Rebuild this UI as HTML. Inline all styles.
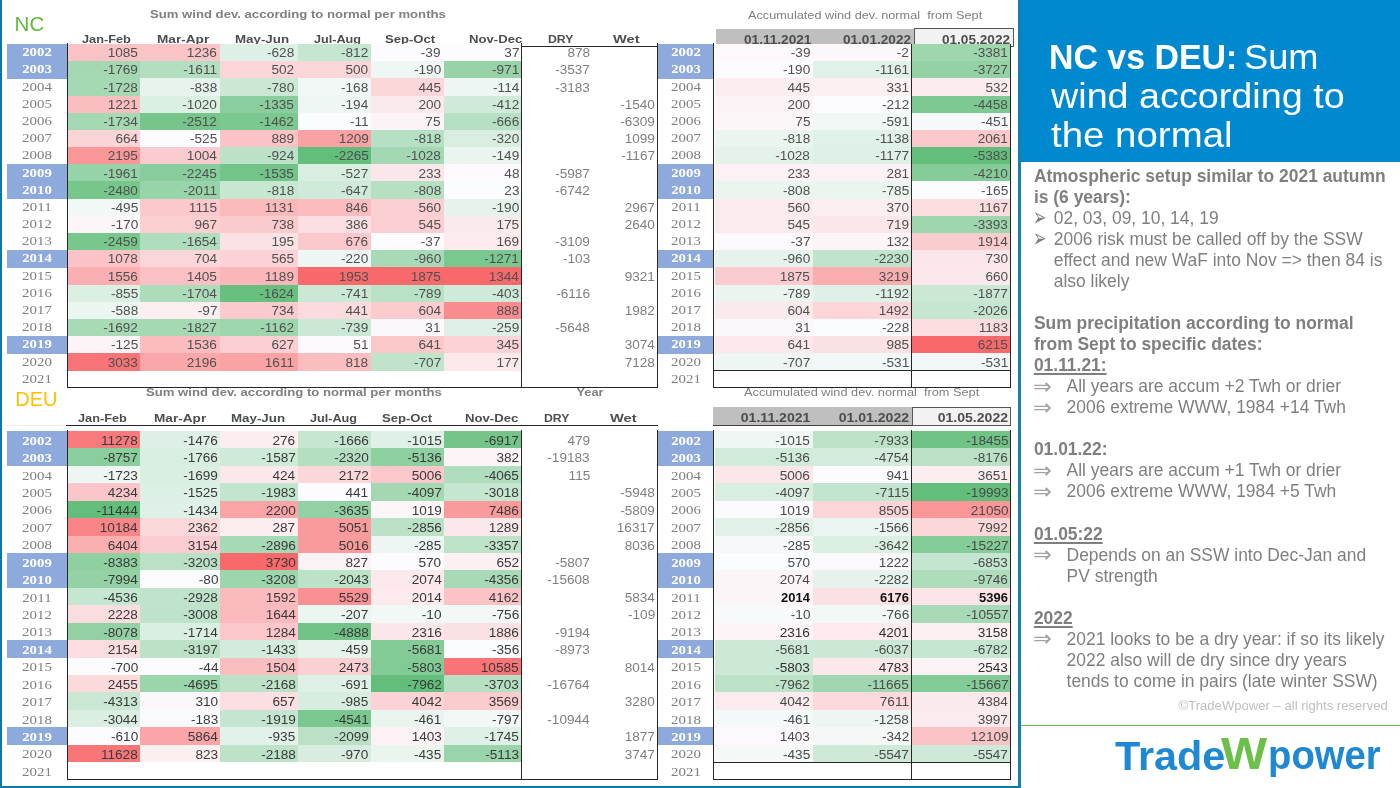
<!DOCTYPE html>
<html lang="en"><head><meta charset="utf-8"><title>NC vs DEU: Sum wind according to the normal</title>
<style>
html,body{margin:0;padding:0;background:#fff;}
body{width:1400px;height:788px;position:relative;overflow:hidden;font-family:"Liberation Sans",sans-serif;}
#all{position:absolute;left:0;top:0;width:1400px;height:788px;will-change:transform;}
.r{position:absolute;}
.t{position:absolute;white-space:nowrap;}
.n{font-family:"Liberation Sans",sans-serif;}
.yn{font-family:"Liberation Serif",serif;color:#7f7f7f;}
.yb{font-family:"Liberation Serif",serif;color:#fff;font-weight:bold;}
.hb{font-weight:bold;color:#4d4d4d;}
.tb{font-weight:bold;color:#7f7f7f;}
.tn{color:#7f7f7f;}
#frameL{position:absolute;left:0;top:0;width:1.8px;height:788px;background:#0d77a9;}
#frameB{position:absolute;left:0;top:786px;width:1021px;height:2px;background:#0d77a9;}
#frameR{position:absolute;left:1018px;top:0;width:3px;height:788px;background:#1780b2;}
#band{position:absolute;left:1021px;top:0;width:379px;height:161.7px;background:#0089cf;}
#title{position:absolute;left:1051px;top:0;color:#fff;}
#title div{position:absolute;left:0;white-space:nowrap;font-size:35px;line-height:35px;}
#title span{display:inline-block;transform-origin:0 50%;}
#body{position:absolute;left:1033.9px;top:166.0px;width:366px;font-size:17.46px;line-height:21.04px;color:#7f7f7f;}
#body div{position:relative;white-space:nowrap;height:21.04px;}
#body b{color:#7f7f7f;}
#body .u{text-decoration:underline;text-decoration-thickness:1.9px;text-underline-offset:2.2px;}
#body .i1{padding-left:19.9px;}
#body .i2{padding-left:32.7px;}
#body .bu{position:absolute;left:0;top:0;font-family:"DejaVu Sans",sans-serif;transform-origin:0 50%;}
#body .b1{font-size:26px;left:-0.5px;top:-1.2px;transform:scaleX(0.61);}
#body .b2{font-size:22.4px;left:-0.9px;top:-0.4px;transform:scaleX(1.0);color:#a2a2a2;}
#copy{position:absolute;right:12.2px;top:0;font-size:13.1px;line-height:13.1px;color:#bfbfbf;white-space:nowrap;}
#gline{position:absolute;left:1021px;top:724.6px;width:379px;height:1.6px;background:#6dbe45;}
#logo{position:absolute;left:0;top:0;color:#1e88d2;font-weight:bold;}
#logo div{position:absolute;white-space:nowrap;}
</style></head><body><div id="all">
<div class="t tb" style="top:7px;font-size:11.6px;line-height:14px;left:149.7px;transform-origin:0 50%;transform:scaleX(1.132);">Sum wind dev. according to normal per months</div><div class="t tb" style="top:385px;font-size:11.6px;line-height:14px;left:145.5px;transform-origin:0 50%;transform:scaleX(1.132);">Sum wind dev. according to normal per months</div><div class="t tn" style="top:8px;font-size:11px;line-height:14px;left:747.9px;transform-origin:0 50%;transform:scaleX(1.155);">Accumulated wind dev. normal&nbsp; from Sept</div><div class="t tn" style="top:385px;font-size:11px;line-height:14px;left:743.7px;transform-origin:0 50%;transform:scaleX(1.16);">Accumulated wind dev. normal&nbsp; from Sept</div><div class="t " style="top:14.25px;font-size:20.5px;line-height:20.5px;color:#62b93c;left:14.6px;transform-origin:0 50%;">NC</div><div class="t " style="top:388.57px;font-size:20px;line-height:20px;color:#ffc000;left:15.3px;transform-origin:0 50%;">DEU</div><div class="t hb" style="top:32px;font-size:11.6px;line-height:14px;left:82.05px;transform-origin:0 50%;transform:scaleX(1.098);">Jan-Feb</div><div class="t hb" style="top:32px;font-size:11.6px;line-height:14px;left:157.31px;transform-origin:0 50%;transform:scaleX(1.174);">Mar-Apr</div><div class="t hb" style="top:32px;font-size:11.6px;line-height:14px;left:234.83px;transform-origin:0 50%;transform:scaleX(1.149);">May-Jun</div><div class="t hb" style="top:32px;font-size:11.6px;line-height:14px;left:313.75px;transform-origin:0 50%;transform:scaleX(1.091);">Jul-Aug</div><div class="t hb" style="top:32px;font-size:11.6px;line-height:14px;left:385.44px;transform-origin:0 50%;transform:scaleX(1.128);">Sep-Oct</div><div class="t hb" style="top:32px;font-size:11.6px;line-height:14px;left:468.73px;transform-origin:0 50%;transform:scaleX(1.132);">Nov-Dec</div><div class="t hb" style="top:32px;font-size:11.6px;line-height:14px;left:548.07px;transform-origin:0 50%;transform:scaleX(1.059);">DRY</div><div class="t hb" style="top:32px;font-size:11.6px;line-height:14px;left:613.37px;transform-origin:0 50%;transform:scaleX(1.262);">Wet</div><div class="r" style="left:716px;top:28.6px;width:198.2px;height:15.2px;background:#bfbfbf;"></div><div class="r" style="left:913.8px;top:28.3px;width:99.8px;height:18.7px;background:#f2f2f2;border:1px solid #555;box-sizing:border-box;"></div><div class="r" style="left:713.2px;top:407.3px;width:198.8px;height:18.3px;background:#bfbfbf;border-bottom:1px solid #444;box-sizing:border-box;"></div><div class="r" style="left:911.5px;top:407.3px;width:99.5px;height:18.3px;background:#f2f2f2;border:1px solid #555;box-sizing:border-box;"></div><div class="t hb" style="top:33px;font-size:12px;line-height:14px;right:588.3px;transform-origin:100% 50%;transform:scaleX(1.135);">01.11.2021</div><div class="t hb" style="top:33px;font-size:12px;line-height:14px;right:489px;transform-origin:100% 50%;transform:scaleX(1.135);">01.01.2022</div><div class="t hb" style="top:33px;font-size:12px;line-height:14px;right:390px;transform-origin:100% 50%;transform:scaleX(1.135);">01.05.2022</div><div class="t hb" style="top:411px;font-size:12px;line-height:14px;right:590.1px;transform-origin:100% 50%;transform:scaleX(1.172);">01.11.2021</div><div class="t hb" style="top:411px;font-size:12px;line-height:14px;right:490.9px;transform-origin:100% 50%;transform:scaleX(1.172);">01.01.2022</div><div class="t hb" style="top:411px;font-size:12px;line-height:14px;right:392px;transform-origin:100% 50%;transform:scaleX(1.172);">01.05.2022</div><div class="r" style="left:7px;top:44px;width:60px;height:17.48px;background:#8ea9db;"></div><div class="t yb" style="top:45px;font-size:13.2px;line-height:14px;left:-163px;width:400px;text-align:center;transform-origin:50% 50%;transform:scaleX(1.12);">2002</div><div class="r" style="left:658.2px;top:44px;width:55.3px;height:17.48px;background:#8ea9db;"></div><div class="t yb" style="top:45px;font-size:13.2px;line-height:14px;left:485.85px;width:400px;text-align:center;transform-origin:50% 50%;transform:scaleX(1.12);">2002</div><div class="r" style="left:68px;top:44px;width:72px;height:17.48px;background:#fac3c5;"></div><div class="t n" style="top:46px;font-size:12.1px;line-height:14px;color:#505050;right:1261.9px;transform-origin:100% 50%;transform:scaleX(1.125);">1085</div><div class="r" style="left:140px;top:44px;width:80px;height:17.48px;background:#fbc5c8;"></div><div class="t n" style="top:46px;font-size:12.1px;line-height:14px;color:#505050;right:1182.9px;transform-origin:100% 50%;transform:scaleX(1.125);">1236</div><div class="r" style="left:220px;top:44px;width:77.5px;height:17.48px;background:#def0e5;"></div><div class="t n" style="top:46px;font-size:12.1px;line-height:14px;color:#505050;right:1105.6px;transform-origin:100% 50%;transform:scaleX(1.125);">-628</div><div class="r" style="left:297.5px;top:44px;width:73px;height:17.48px;background:#c5e6d0;"></div><div class="t n" style="top:46px;font-size:12.1px;line-height:14px;color:#505050;right:1031.4px;transform-origin:100% 50%;transform:scaleX(1.125);">-812</div><div class="r" style="left:370.5px;top:44px;width:73.5px;height:17.48px;background:#fcfcff;"></div><div class="t n" style="top:46px;font-size:12.1px;line-height:14px;color:#505050;right:959.1px;transform-origin:100% 50%;transform:scaleX(1.125);">-39</div><div class="r" style="left:444px;top:44px;width:77px;height:17.48px;background:#fcfcff;"></div><div class="t n" style="top:46px;font-size:12.1px;line-height:14px;color:#505050;right:880.9px;transform-origin:100% 50%;transform:scaleX(1.125);">37</div><div class="t n" style="top:46px;font-size:12.1px;line-height:14px;color:#7f7f7f;right:810.2px;transform-origin:100% 50%;transform:scaleX(1.125);">878</div><div class="r" style="left:714.5px;top:44px;width:98px;height:17.48px;background:#fcf8fb;"></div><div class="t n" style="top:46px;font-size:12.1px;line-height:14px;color:#505050;right:589.8px;transform-origin:100% 50%;transform:scaleX(1.125);">-39</div><div class="r" style="left:812.5px;top:44px;width:99px;height:17.48px;background:#fcf7fa;"></div><div class="t n" style="top:46px;font-size:12.1px;line-height:14px;color:#505050;right:490.8px;transform-origin:100% 50%;transform:scaleX(1.125);">-2</div><div class="r" style="left:911.5px;top:44px;width:99px;height:17.48px;background:#9ed6ae;"></div><div class="t n" style="top:46px;font-size:12.1px;line-height:14px;color:#505050;right:391.8px;transform-origin:100% 50%;transform:scaleX(1.125);">-3381</div><div class="r" style="left:7px;top:61.18px;width:60px;height:17.48px;background:#8ea9db;"></div><div class="t yb" style="top:62px;font-size:13.2px;line-height:14px;left:-163px;width:400px;text-align:center;transform-origin:50% 50%;transform:scaleX(1.12);">2003</div><div class="r" style="left:658.2px;top:61.18px;width:55.3px;height:17.48px;background:#8ea9db;"></div><div class="t yb" style="top:62px;font-size:13.2px;line-height:14px;left:485.85px;width:400px;text-align:center;transform-origin:50% 50%;transform:scaleX(1.12);">2003</div><div class="r" style="left:68px;top:61.18px;width:72px;height:17.48px;background:#a3d8b2;"></div><div class="t n" style="top:63px;font-size:12.1px;line-height:14px;color:#505050;right:1261.9px;transform-origin:100% 50%;transform:scaleX(1.125);">-1769</div><div class="r" style="left:140px;top:61.18px;width:80px;height:17.48px;background:#b3dec0;"></div><div class="t n" style="top:63px;font-size:12.1px;line-height:14px;color:#505050;right:1182.9px;transform-origin:100% 50%;transform:scaleX(1.125);">-1611</div><div class="r" style="left:220px;top:61.18px;width:77.5px;height:17.48px;background:#fbd5d8;"></div><div class="t n" style="top:63px;font-size:12.1px;line-height:14px;color:#505050;right:1105.6px;transform-origin:100% 50%;transform:scaleX(1.125);">502</div><div class="r" style="left:297.5px;top:61.18px;width:73px;height:17.48px;background:#fbd6d9;"></div><div class="t n" style="top:63px;font-size:12.1px;line-height:14px;color:#505050;right:1031.4px;transform-origin:100% 50%;transform:scaleX(1.125);">500</div><div class="r" style="left:370.5px;top:61.18px;width:73.5px;height:17.48px;background:#eef7f3;"></div><div class="t n" style="top:63px;font-size:12.1px;line-height:14px;color:#505050;right:959.1px;transform-origin:100% 50%;transform:scaleX(1.125);">-190</div><div class="r" style="left:444px;top:61.18px;width:77px;height:17.48px;background:#98d3a8;"></div><div class="t n" style="top:63px;font-size:12.1px;line-height:14px;color:#505050;right:880.9px;transform-origin:100% 50%;transform:scaleX(1.125);">-971</div><div class="t n" style="top:63px;font-size:12.1px;line-height:14px;color:#7f7f7f;right:810.2px;transform-origin:100% 50%;transform:scaleX(1.125);">-3537</div><div class="r" style="left:714.5px;top:61.18px;width:98px;height:17.48px;background:#fcfcff;"></div><div class="t n" style="top:63px;font-size:12.1px;line-height:14px;color:#505050;right:589.8px;transform-origin:100% 50%;transform:scaleX(1.125);">-190</div><div class="r" style="left:812.5px;top:61.18px;width:99px;height:17.48px;background:#e0f1e7;"></div><div class="t n" style="top:63px;font-size:12.1px;line-height:14px;color:#505050;right:490.8px;transform-origin:100% 50%;transform:scaleX(1.125);">-1161</div><div class="r" style="left:911.5px;top:61.18px;width:99px;height:17.48px;background:#94d2a5;"></div><div class="t n" style="top:63px;font-size:12.1px;line-height:14px;color:#505050;right:391.8px;transform-origin:100% 50%;transform:scaleX(1.125);">-3727</div><div class="t yn" style="top:80px;font-size:13.2px;line-height:14px;left:-163px;width:400px;text-align:center;transform-origin:50% 50%;transform:scaleX(1.13);">2004</div><div class="t yn" style="top:80px;font-size:13.2px;line-height:14px;left:485.85px;width:400px;text-align:center;transform-origin:50% 50%;transform:scaleX(1.13);">2004</div><div class="r" style="left:68px;top:78.36px;width:72px;height:17.48px;background:#a5d9b4;"></div><div class="t n" style="top:81px;font-size:12.1px;line-height:14px;color:#505050;right:1261.9px;transform-origin:100% 50%;transform:scaleX(1.125);">-1728</div><div class="r" style="left:140px;top:78.36px;width:80px;height:17.48px;background:#e7f3ed;"></div><div class="t n" style="top:81px;font-size:12.1px;line-height:14px;color:#505050;right:1182.9px;transform-origin:100% 50%;transform:scaleX(1.125);">-838</div><div class="r" style="left:220px;top:78.36px;width:77.5px;height:17.48px;background:#cce8d5;"></div><div class="t n" style="top:81px;font-size:12.1px;line-height:14px;color:#505050;right:1105.6px;transform-origin:100% 50%;transform:scaleX(1.125);">-780</div><div class="r" style="left:297.5px;top:78.36px;width:73px;height:17.48px;background:#f1f7f5;"></div><div class="t n" style="top:81px;font-size:12.1px;line-height:14px;color:#505050;right:1031.4px;transform-origin:100% 50%;transform:scaleX(1.125);">-168</div><div class="r" style="left:370.5px;top:78.36px;width:73.5px;height:17.48px;background:#fbd7da;"></div><div class="t n" style="top:81px;font-size:12.1px;line-height:14px;color:#505050;right:959.1px;transform-origin:100% 50%;transform:scaleX(1.125);">445</div><div class="r" style="left:444px;top:78.36px;width:77px;height:17.48px;background:#edf6f2;"></div><div class="t n" style="top:81px;font-size:12.1px;line-height:14px;color:#505050;right:880.9px;transform-origin:100% 50%;transform:scaleX(1.125);">-114</div><div class="t n" style="top:81px;font-size:12.1px;line-height:14px;color:#7f7f7f;right:810.2px;transform-origin:100% 50%;transform:scaleX(1.125);">-3183</div><div class="r" style="left:714.5px;top:78.36px;width:98px;height:17.48px;background:#fcedf0;"></div><div class="t n" style="top:81px;font-size:12.1px;line-height:14px;color:#505050;right:589.8px;transform-origin:100% 50%;transform:scaleX(1.125);">445</div><div class="r" style="left:812.5px;top:78.36px;width:99px;height:17.48px;background:#fcf0f3;"></div><div class="t n" style="top:81px;font-size:12.1px;line-height:14px;color:#505050;right:490.8px;transform-origin:100% 50%;transform:scaleX(1.125);">331</div><div class="r" style="left:911.5px;top:78.36px;width:99px;height:17.48px;background:#fcebee;"></div><div class="t n" style="top:81px;font-size:12.1px;line-height:14px;color:#505050;right:391.8px;transform-origin:100% 50%;transform:scaleX(1.125);">532</div><div class="t yn" style="top:97px;font-size:13.2px;line-height:14px;left:-163px;width:400px;text-align:center;transform-origin:50% 50%;transform:scaleX(1.13);">2005</div><div class="t yn" style="top:97px;font-size:13.2px;line-height:14px;left:485.85px;width:400px;text-align:center;transform-origin:50% 50%;transform:scaleX(1.13);">2005</div><div class="r" style="left:68px;top:95.54px;width:72px;height:17.48px;background:#fabdc0;"></div><div class="t n" style="top:98px;font-size:12.1px;line-height:14px;color:#505050;right:1261.9px;transform-origin:100% 50%;transform:scaleX(1.125);">1221</div><div class="r" style="left:140px;top:95.54px;width:80px;height:17.48px;background:#dbefe2;"></div><div class="t n" style="top:98px;font-size:12.1px;line-height:14px;color:#505050;right:1182.9px;transform-origin:100% 50%;transform:scaleX(1.125);">-1020</div><div class="r" style="left:220px;top:95.54px;width:77.5px;height:17.48px;background:#8ace9d;"></div><div class="t n" style="top:98px;font-size:12.1px;line-height:14px;color:#505050;right:1105.6px;transform-origin:100% 50%;transform:scaleX(1.125);">-1335</div><div class="r" style="left:297.5px;top:95.54px;width:73px;height:17.48px;background:#eff7f4;"></div><div class="t n" style="top:98px;font-size:12.1px;line-height:14px;color:#505050;right:1031.4px;transform-origin:100% 50%;transform:scaleX(1.125);">-194</div><div class="r" style="left:370.5px;top:95.54px;width:73.5px;height:17.48px;background:#fbeaec;"></div><div class="t n" style="top:98px;font-size:12.1px;line-height:14px;color:#505050;right:959.1px;transform-origin:100% 50%;transform:scaleX(1.125);">200</div><div class="r" style="left:444px;top:95.54px;width:77px;height:17.48px;background:#cfead9;"></div><div class="t n" style="top:98px;font-size:12.1px;line-height:14px;color:#505050;right:880.9px;transform-origin:100% 50%;transform:scaleX(1.125);">-412</div><div class="t n" style="top:98px;font-size:12.1px;line-height:14px;color:#7f7f7f;right:745.2px;transform-origin:100% 50%;transform:scaleX(1.125);">-1540</div><div class="r" style="left:714.5px;top:95.54px;width:98px;height:17.48px;background:#fcf3f6;"></div><div class="t n" style="top:98px;font-size:12.1px;line-height:14px;color:#505050;right:589.8px;transform-origin:100% 50%;transform:scaleX(1.125);">200</div><div class="r" style="left:812.5px;top:95.54px;width:99px;height:17.48px;background:#fcfcff;"></div><div class="t n" style="top:98px;font-size:12.1px;line-height:14px;color:#505050;right:490.8px;transform-origin:100% 50%;transform:scaleX(1.125);">-212</div><div class="r" style="left:911.5px;top:95.54px;width:99px;height:17.48px;background:#7ec993;"></div><div class="t n" style="top:98px;font-size:12.1px;line-height:14px;color:#505050;right:391.8px;transform-origin:100% 50%;transform:scaleX(1.125);">-4458</div><div class="t yn" style="top:114px;font-size:13.2px;line-height:14px;left:-163px;width:400px;text-align:center;transform-origin:50% 50%;transform:scaleX(1.13);">2006</div><div class="t yn" style="top:114px;font-size:13.2px;line-height:14px;left:485.85px;width:400px;text-align:center;transform-origin:50% 50%;transform:scaleX(1.13);">2006</div><div class="r" style="left:68px;top:112.72px;width:72px;height:17.48px;background:#a5d9b4;"></div><div class="t n" style="top:115px;font-size:12.1px;line-height:14px;color:#505050;right:1261.9px;transform-origin:100% 50%;transform:scaleX(1.125);">-1734</div><div class="r" style="left:140px;top:112.72px;width:80px;height:17.48px;background:#76c68c;"></div><div class="t n" style="top:115px;font-size:12.1px;line-height:14px;color:#505050;right:1182.9px;transform-origin:100% 50%;transform:scaleX(1.125);">-2512</div><div class="r" style="left:220px;top:112.72px;width:77.5px;height:17.48px;background:#7bc890;"></div><div class="t n" style="top:115px;font-size:12.1px;line-height:14px;color:#505050;right:1105.6px;transform-origin:100% 50%;transform:scaleX(1.125);">-1462</div><div class="r" style="left:297.5px;top:112.72px;width:73px;height:17.48px;background:#fbfcfe;"></div><div class="t n" style="top:115px;font-size:12.1px;line-height:14px;color:#505050;right:1031.4px;transform-origin:100% 50%;transform:scaleX(1.125);">-11</div><div class="r" style="left:370.5px;top:112.72px;width:73.5px;height:17.48px;background:#fcf3f6;"></div><div class="t n" style="top:115px;font-size:12.1px;line-height:14px;color:#505050;right:959.1px;transform-origin:100% 50%;transform:scaleX(1.125);">75</div><div class="r" style="left:444px;top:112.72px;width:77px;height:17.48px;background:#b6e0c3;"></div><div class="t n" style="top:115px;font-size:12.1px;line-height:14px;color:#505050;right:880.9px;transform-origin:100% 50%;transform:scaleX(1.125);">-666</div><div class="t n" style="top:115px;font-size:12.1px;line-height:14px;color:#7f7f7f;right:745.2px;transform-origin:100% 50%;transform:scaleX(1.125);">-6309</div><div class="r" style="left:714.5px;top:112.72px;width:98px;height:17.48px;background:#fcf6f9;"></div><div class="t n" style="top:115px;font-size:12.1px;line-height:14px;color:#505050;right:589.8px;transform-origin:100% 50%;transform:scaleX(1.125);">75</div><div class="r" style="left:812.5px;top:112.72px;width:99px;height:17.48px;background:#f0f7f5;"></div><div class="t n" style="top:115px;font-size:12.1px;line-height:14px;color:#505050;right:490.8px;transform-origin:100% 50%;transform:scaleX(1.125);">-591</div><div class="r" style="left:911.5px;top:112.72px;width:99px;height:17.48px;background:#f5f9f9;"></div><div class="t n" style="top:115px;font-size:12.1px;line-height:14px;color:#505050;right:391.8px;transform-origin:100% 50%;transform:scaleX(1.125);">-451</div><div class="t yn" style="top:131px;font-size:13.2px;line-height:14px;left:-163px;width:400px;text-align:center;transform-origin:50% 50%;transform:scaleX(1.13);">2007</div><div class="t yn" style="top:131px;font-size:13.2px;line-height:14px;left:485.85px;width:400px;text-align:center;transform-origin:50% 50%;transform:scaleX(1.13);">2007</div><div class="r" style="left:68px;top:129.9px;width:72px;height:17.48px;background:#fbd4d6;"></div><div class="t n" style="top:132px;font-size:12.1px;line-height:14px;color:#505050;right:1261.9px;transform-origin:100% 50%;transform:scaleX(1.125);">664</div><div class="r" style="left:140px;top:129.9px;width:80px;height:17.48px;background:#fcfcff;"></div><div class="t n" style="top:132px;font-size:12.1px;line-height:14px;color:#505050;right:1182.9px;transform-origin:100% 50%;transform:scaleX(1.125);">-525</div><div class="r" style="left:220px;top:129.9px;width:77.5px;height:17.48px;background:#fac3c6;"></div><div class="t n" style="top:132px;font-size:12.1px;line-height:14px;color:#505050;right:1105.6px;transform-origin:100% 50%;transform:scaleX(1.125);">889</div><div class="r" style="left:297.5px;top:129.9px;width:73px;height:17.48px;background:#faa1a3;"></div><div class="t n" style="top:132px;font-size:12.1px;line-height:14px;color:#505050;right:1031.4px;transform-origin:100% 50%;transform:scaleX(1.125);">1209</div><div class="r" style="left:370.5px;top:129.9px;width:73.5px;height:17.48px;background:#b6e0c3;"></div><div class="t n" style="top:132px;font-size:12.1px;line-height:14px;color:#505050;right:959.1px;transform-origin:100% 50%;transform:scaleX(1.125);">-818</div><div class="r" style="left:444px;top:129.9px;width:77px;height:17.48px;background:#d9eee0;"></div><div class="t n" style="top:132px;font-size:12.1px;line-height:14px;color:#505050;right:880.9px;transform-origin:100% 50%;transform:scaleX(1.125);">-320</div><div class="t n" style="top:132px;font-size:12.1px;line-height:14px;color:#7f7f7f;right:745.2px;transform-origin:100% 50%;transform:scaleX(1.125);">1099</div><div class="r" style="left:714.5px;top:129.9px;width:98px;height:17.48px;background:#eaf5ef;"></div><div class="t n" style="top:132px;font-size:12.1px;line-height:14px;color:#505050;right:589.8px;transform-origin:100% 50%;transform:scaleX(1.125);">-818</div><div class="r" style="left:812.5px;top:129.9px;width:99px;height:17.48px;background:#e0f1e7;"></div><div class="t n" style="top:132px;font-size:12.1px;line-height:14px;color:#505050;right:490.8px;transform-origin:100% 50%;transform:scaleX(1.125);">-1138</div><div class="r" style="left:911.5px;top:129.9px;width:99px;height:17.48px;background:#fbc8cb;"></div><div class="t n" style="top:132px;font-size:12.1px;line-height:14px;color:#505050;right:391.8px;transform-origin:100% 50%;transform:scaleX(1.125);">2061</div><div class="t yn" style="top:148px;font-size:13.2px;line-height:14px;left:-163px;width:400px;text-align:center;transform-origin:50% 50%;transform:scaleX(1.13);">2008</div><div class="t yn" style="top:148px;font-size:13.2px;line-height:14px;left:485.85px;width:400px;text-align:center;transform-origin:50% 50%;transform:scaleX(1.13);">2008</div><div class="r" style="left:68px;top:147.08px;width:72px;height:17.48px;background:#f99698;"></div><div class="t n" style="top:149px;font-size:12.1px;line-height:14px;color:#505050;right:1261.9px;transform-origin:100% 50%;transform:scaleX(1.125);">2195</div><div class="r" style="left:140px;top:147.08px;width:80px;height:17.48px;background:#fbcccf;"></div><div class="t n" style="top:149px;font-size:12.1px;line-height:14px;color:#505050;right:1182.9px;transform-origin:100% 50%;transform:scaleX(1.125);">1004</div><div class="r" style="left:220px;top:147.08px;width:77.5px;height:17.48px;background:#bbe1c7;"></div><div class="t n" style="top:149px;font-size:12.1px;line-height:14px;color:#505050;right:1105.6px;transform-origin:100% 50%;transform:scaleX(1.125);">-924</div><div class="r" style="left:297.5px;top:147.08px;width:73px;height:17.48px;background:#63be7b;"></div><div class="t n" style="top:149px;font-size:12.1px;line-height:14px;color:#505050;right:1031.4px;transform-origin:100% 50%;transform:scaleX(1.125);">-2265</div><div class="r" style="left:370.5px;top:147.08px;width:73.5px;height:17.48px;background:#a3d8b2;"></div><div class="t n" style="top:149px;font-size:12.1px;line-height:14px;color:#505050;right:959.1px;transform-origin:100% 50%;transform:scaleX(1.125);">-1028</div><div class="r" style="left:444px;top:147.08px;width:77px;height:17.48px;background:#eaf5ef;"></div><div class="t n" style="top:149px;font-size:12.1px;line-height:14px;color:#505050;right:880.9px;transform-origin:100% 50%;transform:scaleX(1.125);">-149</div><div class="t n" style="top:149px;font-size:12.1px;line-height:14px;color:#7f7f7f;right:745.2px;transform-origin:100% 50%;transform:scaleX(1.125);">-1167</div><div class="r" style="left:714.5px;top:147.08px;width:98px;height:17.48px;background:#e4f2ea;"></div><div class="t n" style="top:149px;font-size:12.1px;line-height:14px;color:#505050;right:589.8px;transform-origin:100% 50%;transform:scaleX(1.125);">-1028</div><div class="r" style="left:812.5px;top:147.08px;width:99px;height:17.48px;background:#dff0e6;"></div><div class="t n" style="top:149px;font-size:12.1px;line-height:14px;color:#505050;right:490.8px;transform-origin:100% 50%;transform:scaleX(1.125);">-1177</div><div class="r" style="left:911.5px;top:147.08px;width:99px;height:17.48px;background:#63be7b;"></div><div class="t n" style="top:149px;font-size:12.1px;line-height:14px;color:#505050;right:391.8px;transform-origin:100% 50%;transform:scaleX(1.125);">-5383</div><div class="r" style="left:7px;top:164.26px;width:60px;height:17.48px;background:#8ea9db;"></div><div class="t yb" style="top:166px;font-size:13.2px;line-height:14px;left:-163px;width:400px;text-align:center;transform-origin:50% 50%;transform:scaleX(1.12);">2009</div><div class="r" style="left:658.2px;top:164.26px;width:55.3px;height:17.48px;background:#8ea9db;"></div><div class="t yb" style="top:166px;font-size:13.2px;line-height:14px;left:485.85px;width:400px;text-align:center;transform-origin:50% 50%;transform:scaleX(1.12);">2009</div><div class="r" style="left:68px;top:164.26px;width:72px;height:17.48px;background:#97d3a8;"></div><div class="t n" style="top:167px;font-size:12.1px;line-height:14px;color:#505050;right:1261.9px;transform-origin:100% 50%;transform:scaleX(1.125);">-1961</div><div class="r" style="left:140px;top:164.26px;width:80px;height:17.48px;background:#88cd9b;"></div><div class="t n" style="top:167px;font-size:12.1px;line-height:14px;color:#505050;right:1182.9px;transform-origin:100% 50%;transform:scaleX(1.125);">-2245</div><div class="r" style="left:220px;top:164.26px;width:77.5px;height:17.48px;background:#72c488;"></div><div class="t n" style="top:167px;font-size:12.1px;line-height:14px;color:#505050;right:1105.6px;transform-origin:100% 50%;transform:scaleX(1.125);">-1535</div><div class="r" style="left:297.5px;top:164.26px;width:73px;height:17.48px;background:#d8eee0;"></div><div class="t n" style="top:167px;font-size:12.1px;line-height:14px;color:#505050;right:1031.4px;transform-origin:100% 50%;transform:scaleX(1.125);">-527</div><div class="r" style="left:370.5px;top:164.26px;width:73.5px;height:17.48px;background:#fbe7ea;"></div><div class="t n" style="top:167px;font-size:12.1px;line-height:14px;color:#505050;right:959.1px;transform-origin:100% 50%;transform:scaleX(1.125);">233</div><div class="r" style="left:444px;top:164.26px;width:77px;height:17.48px;background:#fcfafd;"></div><div class="t n" style="top:167px;font-size:12.1px;line-height:14px;color:#505050;right:880.9px;transform-origin:100% 50%;transform:scaleX(1.125);">48</div><div class="t n" style="top:167px;font-size:12.1px;line-height:14px;color:#7f7f7f;right:810.2px;transform-origin:100% 50%;transform:scaleX(1.125);">-5987</div><div class="r" style="left:714.5px;top:164.26px;width:98px;height:17.48px;background:#fcf2f5;"></div><div class="t n" style="top:167px;font-size:12.1px;line-height:14px;color:#505050;right:589.8px;transform-origin:100% 50%;transform:scaleX(1.125);">233</div><div class="r" style="left:812.5px;top:164.26px;width:99px;height:17.48px;background:#fcf1f4;"></div><div class="t n" style="top:167px;font-size:12.1px;line-height:14px;color:#505050;right:490.8px;transform-origin:100% 50%;transform:scaleX(1.125);">281</div><div class="r" style="left:911.5px;top:164.26px;width:99px;height:17.48px;background:#86cc99;"></div><div class="t n" style="top:167px;font-size:12.1px;line-height:14px;color:#505050;right:391.8px;transform-origin:100% 50%;transform:scaleX(1.125);">-4210</div><div class="r" style="left:7px;top:181.44px;width:60px;height:17.48px;background:#8ea9db;"></div><div class="t yb" style="top:183px;font-size:13.2px;line-height:14px;left:-163px;width:400px;text-align:center;transform-origin:50% 50%;transform:scaleX(1.12);">2010</div><div class="r" style="left:658.2px;top:181.44px;width:55.3px;height:17.48px;background:#8ea9db;"></div><div class="t yb" style="top:183px;font-size:13.2px;line-height:14px;left:485.85px;width:400px;text-align:center;transform-origin:50% 50%;transform:scaleX(1.12);">2010</div><div class="r" style="left:68px;top:181.44px;width:72px;height:17.48px;background:#77c68c;"></div><div class="t n" style="top:184px;font-size:12.1px;line-height:14px;color:#505050;right:1261.9px;transform-origin:100% 50%;transform:scaleX(1.125);">-2480</div><div class="r" style="left:140px;top:181.44px;width:80px;height:17.48px;background:#98d4a9;"></div><div class="t n" style="top:184px;font-size:12.1px;line-height:14px;color:#505050;right:1182.9px;transform-origin:100% 50%;transform:scaleX(1.125);">-2011</div><div class="r" style="left:220px;top:181.44px;width:77.5px;height:17.48px;background:#c7e7d1;"></div><div class="t n" style="top:184px;font-size:12.1px;line-height:14px;color:#505050;right:1105.6px;transform-origin:100% 50%;transform:scaleX(1.125);">-818</div><div class="r" style="left:297.5px;top:181.44px;width:73px;height:17.48px;background:#d0ead9;"></div><div class="t n" style="top:184px;font-size:12.1px;line-height:14px;color:#505050;right:1031.4px;transform-origin:100% 50%;transform:scaleX(1.125);">-647</div><div class="r" style="left:370.5px;top:181.44px;width:73.5px;height:17.48px;background:#b7e0c3;"></div><div class="t n" style="top:184px;font-size:12.1px;line-height:14px;color:#505050;right:959.1px;transform-origin:100% 50%;transform:scaleX(1.125);">-808</div><div class="r" style="left:444px;top:181.44px;width:77px;height:17.48px;background:#fbfcfe;"></div><div class="t n" style="top:184px;font-size:12.1px;line-height:14px;color:#505050;right:880.9px;transform-origin:100% 50%;transform:scaleX(1.125);">23</div><div class="t n" style="top:184px;font-size:12.1px;line-height:14px;color:#7f7f7f;right:810.2px;transform-origin:100% 50%;transform:scaleX(1.125);">-6742</div><div class="r" style="left:714.5px;top:181.44px;width:98px;height:17.48px;background:#eaf5f0;"></div><div class="t n" style="top:184px;font-size:12.1px;line-height:14px;color:#505050;right:589.8px;transform-origin:100% 50%;transform:scaleX(1.125);">-808</div><div class="r" style="left:812.5px;top:181.44px;width:99px;height:17.48px;background:#ebf5f0;"></div><div class="t n" style="top:184px;font-size:12.1px;line-height:14px;color:#505050;right:490.8px;transform-origin:100% 50%;transform:scaleX(1.125);">-785</div><div class="r" style="left:911.5px;top:181.44px;width:99px;height:17.48px;background:#fcfbfe;"></div><div class="t n" style="top:184px;font-size:12.1px;line-height:14px;color:#505050;right:391.8px;transform-origin:100% 50%;transform:scaleX(1.125);">-165</div><div class="t yn" style="top:200px;font-size:13.2px;line-height:14px;left:-163px;width:400px;text-align:center;transform-origin:50% 50%;transform:scaleX(1.13);">2011</div><div class="t yn" style="top:200px;font-size:13.2px;line-height:14px;left:485.85px;width:400px;text-align:center;transform-origin:50% 50%;transform:scaleX(1.13);">2011</div><div class="r" style="left:68px;top:198.62px;width:72px;height:17.48px;background:#f2f8f6;"></div><div class="t n" style="top:201px;font-size:12.1px;line-height:14px;color:#505050;right:1261.9px;transform-origin:100% 50%;transform:scaleX(1.125);">-495</div><div class="r" style="left:140px;top:198.62px;width:80px;height:17.48px;background:#fbc9cc;"></div><div class="t n" style="top:201px;font-size:12.1px;line-height:14px;color:#505050;right:1182.9px;transform-origin:100% 50%;transform:scaleX(1.125);">1115</div><div class="r" style="left:220px;top:198.62px;width:77.5px;height:17.48px;background:#fab9bb;"></div><div class="t n" style="top:201px;font-size:12.1px;line-height:14px;color:#505050;right:1105.6px;transform-origin:100% 50%;transform:scaleX(1.125);">1131</div><div class="r" style="left:297.5px;top:198.62px;width:73px;height:17.48px;background:#fabcbf;"></div><div class="t n" style="top:201px;font-size:12.1px;line-height:14px;color:#505050;right:1031.4px;transform-origin:100% 50%;transform:scaleX(1.125);">846</div><div class="r" style="left:370.5px;top:198.62px;width:73.5px;height:17.48px;background:#fbced1;"></div><div class="t n" style="top:201px;font-size:12.1px;line-height:14px;color:#505050;right:959.1px;transform-origin:100% 50%;transform:scaleX(1.125);">560</div><div class="r" style="left:444px;top:198.62px;width:77px;height:17.48px;background:#e6f3ec;"></div><div class="t n" style="top:201px;font-size:12.1px;line-height:14px;color:#505050;right:880.9px;transform-origin:100% 50%;transform:scaleX(1.125);">-190</div><div class="t n" style="top:201px;font-size:12.1px;line-height:14px;color:#7f7f7f;right:745.2px;transform-origin:100% 50%;transform:scaleX(1.125);">2967</div><div class="r" style="left:714.5px;top:198.62px;width:98px;height:17.48px;background:#fcebed;"></div><div class="t n" style="top:201px;font-size:12.1px;line-height:14px;color:#505050;right:589.8px;transform-origin:100% 50%;transform:scaleX(1.125);">560</div><div class="r" style="left:812.5px;top:198.62px;width:99px;height:17.48px;background:#fceff2;"></div><div class="t n" style="top:201px;font-size:12.1px;line-height:14px;color:#505050;right:490.8px;transform-origin:100% 50%;transform:scaleX(1.125);">370</div><div class="r" style="left:911.5px;top:198.62px;width:99px;height:17.48px;background:#fbdddf;"></div><div class="t n" style="top:201px;font-size:12.1px;line-height:14px;color:#505050;right:391.8px;transform-origin:100% 50%;transform:scaleX(1.125);">1167</div><div class="t yn" style="top:217px;font-size:13.2px;line-height:14px;left:-163px;width:400px;text-align:center;transform-origin:50% 50%;transform:scaleX(1.13);">2012</div><div class="t yn" style="top:217px;font-size:13.2px;line-height:14px;left:485.85px;width:400px;text-align:center;transform-origin:50% 50%;transform:scaleX(1.13);">2012</div><div class="r" style="left:68px;top:215.8px;width:72px;height:17.48px;background:#fcf6f8;"></div><div class="t n" style="top:218px;font-size:12.1px;line-height:14px;color:#505050;right:1261.9px;transform-origin:100% 50%;transform:scaleX(1.125);">-170</div><div class="r" style="left:140px;top:215.8px;width:80px;height:17.48px;background:#fbced0;"></div><div class="t n" style="top:218px;font-size:12.1px;line-height:14px;color:#505050;right:1182.9px;transform-origin:100% 50%;transform:scaleX(1.125);">967</div><div class="r" style="left:220px;top:215.8px;width:77.5px;height:17.48px;background:#fbcacd;"></div><div class="t n" style="top:218px;font-size:12.1px;line-height:14px;color:#505050;right:1105.6px;transform-origin:100% 50%;transform:scaleX(1.125);">738</div><div class="r" style="left:297.5px;top:215.8px;width:73px;height:17.48px;background:#fbdfe2;"></div><div class="t n" style="top:218px;font-size:12.1px;line-height:14px;color:#505050;right:1031.4px;transform-origin:100% 50%;transform:scaleX(1.125);">386</div><div class="r" style="left:370.5px;top:215.8px;width:73.5px;height:17.48px;background:#fbcfd2;"></div><div class="t n" style="top:218px;font-size:12.1px;line-height:14px;color:#505050;right:959.1px;transform-origin:100% 50%;transform:scaleX(1.125);">545</div><div class="r" style="left:444px;top:215.8px;width:77px;height:17.48px;background:#fbeaec;"></div><div class="t n" style="top:218px;font-size:12.1px;line-height:14px;color:#505050;right:880.9px;transform-origin:100% 50%;transform:scaleX(1.125);">175</div><div class="t n" style="top:218px;font-size:12.1px;line-height:14px;color:#7f7f7f;right:745.2px;transform-origin:100% 50%;transform:scaleX(1.125);">2640</div><div class="r" style="left:714.5px;top:215.8px;width:98px;height:17.48px;background:#fcebee;"></div><div class="t n" style="top:218px;font-size:12.1px;line-height:14px;color:#505050;right:589.8px;transform-origin:100% 50%;transform:scaleX(1.125);">545</div><div class="r" style="left:812.5px;top:215.8px;width:99px;height:17.48px;background:#fbe7ea;"></div><div class="t n" style="top:218px;font-size:12.1px;line-height:14px;color:#505050;right:490.8px;transform-origin:100% 50%;transform:scaleX(1.125);">719</div><div class="r" style="left:911.5px;top:215.8px;width:99px;height:17.48px;background:#9ed6ae;"></div><div class="t n" style="top:218px;font-size:12.1px;line-height:14px;color:#505050;right:391.8px;transform-origin:100% 50%;transform:scaleX(1.125);">-3393</div><div class="t yn" style="top:234px;font-size:13.2px;line-height:14px;left:-163px;width:400px;text-align:center;transform-origin:50% 50%;transform:scaleX(1.13);">2013</div><div class="t yn" style="top:234px;font-size:13.2px;line-height:14px;left:485.85px;width:400px;text-align:center;transform-origin:50% 50%;transform:scaleX(1.13);">2013</div><div class="r" style="left:68px;top:232.98px;width:72px;height:17.48px;background:#78c78d;"></div><div class="t n" style="top:235px;font-size:12.1px;line-height:14px;color:#505050;right:1261.9px;transform-origin:100% 50%;transform:scaleX(1.125);">-2459</div><div class="r" style="left:140px;top:232.98px;width:80px;height:17.48px;background:#b0ddbd;"></div><div class="t n" style="top:235px;font-size:12.1px;line-height:14px;color:#505050;right:1182.9px;transform-origin:100% 50%;transform:scaleX(1.125);">-1654</div><div class="r" style="left:220px;top:232.98px;width:77.5px;height:17.48px;background:#fbe3e5;"></div><div class="t n" style="top:235px;font-size:12.1px;line-height:14px;color:#505050;right:1105.6px;transform-origin:100% 50%;transform:scaleX(1.125);">195</div><div class="r" style="left:297.5px;top:232.98px;width:73px;height:17.48px;background:#fbc9cc;"></div><div class="t n" style="top:235px;font-size:12.1px;line-height:14px;color:#505050;right:1031.4px;transform-origin:100% 50%;transform:scaleX(1.125);">676</div><div class="r" style="left:370.5px;top:232.98px;width:73.5px;height:17.48px;background:#fcfcff;"></div><div class="t n" style="top:235px;font-size:12.1px;line-height:14px;color:#505050;right:959.1px;transform-origin:100% 50%;transform:scaleX(1.125);">-37</div><div class="r" style="left:444px;top:232.98px;width:77px;height:17.48px;background:#fceaed;"></div><div class="t n" style="top:235px;font-size:12.1px;line-height:14px;color:#505050;right:880.9px;transform-origin:100% 50%;transform:scaleX(1.125);">169</div><div class="t n" style="top:235px;font-size:12.1px;line-height:14px;color:#7f7f7f;right:810.2px;transform-origin:100% 50%;transform:scaleX(1.125);">-3109</div><div class="r" style="left:714.5px;top:232.98px;width:98px;height:17.48px;background:#fcf8fb;"></div><div class="t n" style="top:235px;font-size:12.1px;line-height:14px;color:#505050;right:589.8px;transform-origin:100% 50%;transform:scaleX(1.125);">-37</div><div class="r" style="left:812.5px;top:232.98px;width:99px;height:17.48px;background:#fcf4f7;"></div><div class="t n" style="top:235px;font-size:12.1px;line-height:14px;color:#505050;right:490.8px;transform-origin:100% 50%;transform:scaleX(1.125);">132</div><div class="r" style="left:911.5px;top:232.98px;width:99px;height:17.48px;background:#fbccce;"></div><div class="t n" style="top:235px;font-size:12.1px;line-height:14px;color:#505050;right:391.8px;transform-origin:100% 50%;transform:scaleX(1.125);">1914</div><div class="r" style="left:7px;top:250.16px;width:60px;height:17.48px;background:#8ea9db;"></div><div class="t yb" style="top:251px;font-size:13.2px;line-height:14px;left:-163px;width:400px;text-align:center;transform-origin:50% 50%;transform:scaleX(1.12);">2014</div><div class="r" style="left:658.2px;top:250.16px;width:55.3px;height:17.48px;background:#8ea9db;"></div><div class="t yb" style="top:251px;font-size:13.2px;line-height:14px;left:485.85px;width:400px;text-align:center;transform-origin:50% 50%;transform:scaleX(1.12);">2014</div><div class="r" style="left:68px;top:250.16px;width:72px;height:17.48px;background:#fac3c6;"></div><div class="t n" style="top:252px;font-size:12.1px;line-height:14px;color:#505050;right:1261.9px;transform-origin:100% 50%;transform:scaleX(1.125);">1078</div><div class="r" style="left:140px;top:250.16px;width:80px;height:17.48px;background:#fbd6d9;"></div><div class="t n" style="top:252px;font-size:12.1px;line-height:14px;color:#505050;right:1182.9px;transform-origin:100% 50%;transform:scaleX(1.125);">704</div><div class="r" style="left:220px;top:250.16px;width:77.5px;height:17.48px;background:#fbd2d5;"></div><div class="t n" style="top:252px;font-size:12.1px;line-height:14px;color:#505050;right:1105.6px;transform-origin:100% 50%;transform:scaleX(1.125);">565</div><div class="r" style="left:297.5px;top:250.16px;width:73px;height:17.48px;background:#edf6f2;"></div><div class="t n" style="top:252px;font-size:12.1px;line-height:14px;color:#505050;right:1031.4px;transform-origin:100% 50%;transform:scaleX(1.125);">-220</div><div class="r" style="left:370.5px;top:250.16px;width:73.5px;height:17.48px;background:#a9dab8;"></div><div class="t n" style="top:252px;font-size:12.1px;line-height:14px;color:#505050;right:959.1px;transform-origin:100% 50%;transform:scaleX(1.125);">-960</div><div class="r" style="left:444px;top:250.16px;width:77px;height:17.48px;background:#7ac78f;"></div><div class="t n" style="top:252px;font-size:12.1px;line-height:14px;color:#505050;right:880.9px;transform-origin:100% 50%;transform:scaleX(1.125);">-1271</div><div class="t n" style="top:252px;font-size:12.1px;line-height:14px;color:#7f7f7f;right:810.2px;transform-origin:100% 50%;transform:scaleX(1.125);">-103</div><div class="r" style="left:714.5px;top:250.16px;width:98px;height:17.48px;background:#e6f3ec;"></div><div class="t n" style="top:252px;font-size:12.1px;line-height:14px;color:#505050;right:589.8px;transform-origin:100% 50%;transform:scaleX(1.125);">-960</div><div class="r" style="left:812.5px;top:250.16px;width:99px;height:17.48px;background:#c0e4cb;"></div><div class="t n" style="top:252px;font-size:12.1px;line-height:14px;color:#505050;right:490.8px;transform-origin:100% 50%;transform:scaleX(1.125);">-2230</div><div class="r" style="left:911.5px;top:250.16px;width:99px;height:17.48px;background:#fbe7ea;"></div><div class="t n" style="top:252px;font-size:12.1px;line-height:14px;color:#505050;right:391.8px;transform-origin:100% 50%;transform:scaleX(1.125);">730</div><div class="t yn" style="top:269px;font-size:13.2px;line-height:14px;left:-163px;width:400px;text-align:center;transform-origin:50% 50%;transform:scaleX(1.13);">2015</div><div class="t yn" style="top:269px;font-size:13.2px;line-height:14px;left:485.85px;width:400px;text-align:center;transform-origin:50% 50%;transform:scaleX(1.13);">2015</div><div class="r" style="left:68px;top:267.34px;width:72px;height:17.48px;background:#fab0b2;"></div><div class="t n" style="top:270px;font-size:12.1px;line-height:14px;color:#505050;right:1261.9px;transform-origin:100% 50%;transform:scaleX(1.125);">1556</div><div class="r" style="left:140px;top:267.34px;width:80px;height:17.48px;background:#fac0c3;"></div><div class="t n" style="top:270px;font-size:12.1px;line-height:14px;color:#505050;right:1182.9px;transform-origin:100% 50%;transform:scaleX(1.125);">1405</div><div class="r" style="left:220px;top:267.34px;width:77.5px;height:17.48px;background:#fab6b8;"></div><div class="t n" style="top:270px;font-size:12.1px;line-height:14px;color:#505050;right:1105.6px;transform-origin:100% 50%;transform:scaleX(1.125);">1189</div><div class="r" style="left:297.5px;top:267.34px;width:73px;height:17.48px;background:#f8696b;"></div><div class="t n" style="top:270px;font-size:12.1px;line-height:14px;color:#505050;right:1031.4px;transform-origin:100% 50%;transform:scaleX(1.125);">1953</div><div class="r" style="left:370.5px;top:267.34px;width:73.5px;height:17.48px;background:#f8696b;"></div><div class="t n" style="top:270px;font-size:12.1px;line-height:14px;color:#505050;right:959.1px;transform-origin:100% 50%;transform:scaleX(1.125);">1875</div><div class="r" style="left:444px;top:267.34px;width:77px;height:17.48px;background:#f8696b;"></div><div class="t n" style="top:270px;font-size:12.1px;line-height:14px;color:#505050;right:880.9px;transform-origin:100% 50%;transform:scaleX(1.125);">1344</div><div class="t n" style="top:270px;font-size:12.1px;line-height:14px;color:#7f7f7f;right:745.2px;transform-origin:100% 50%;transform:scaleX(1.125);">9321</div><div class="r" style="left:714.5px;top:267.34px;width:98px;height:17.48px;background:#fbcccf;"></div><div class="t n" style="top:270px;font-size:12.1px;line-height:14px;color:#505050;right:589.8px;transform-origin:100% 50%;transform:scaleX(1.125);">1875</div><div class="r" style="left:812.5px;top:267.34px;width:99px;height:17.48px;background:#faaeb0;"></div><div class="t n" style="top:270px;font-size:12.1px;line-height:14px;color:#505050;right:490.8px;transform-origin:100% 50%;transform:scaleX(1.125);">3219</div><div class="r" style="left:911.5px;top:267.34px;width:99px;height:17.48px;background:#fbe8eb;"></div><div class="t n" style="top:270px;font-size:12.1px;line-height:14px;color:#505050;right:391.8px;transform-origin:100% 50%;transform:scaleX(1.125);">660</div><div class="t yn" style="top:286px;font-size:13.2px;line-height:14px;left:-163px;width:400px;text-align:center;transform-origin:50% 50%;transform:scaleX(1.13);">2016</div><div class="t yn" style="top:286px;font-size:13.2px;line-height:14px;left:485.85px;width:400px;text-align:center;transform-origin:50% 50%;transform:scaleX(1.13);">2016</div><div class="r" style="left:68px;top:284.52px;width:72px;height:17.48px;background:#dbefe3;"></div><div class="t n" style="top:287px;font-size:12.1px;line-height:14px;color:#505050;right:1261.9px;transform-origin:100% 50%;transform:scaleX(1.125);">-855</div><div class="r" style="left:140px;top:284.52px;width:80px;height:17.48px;background:#addcbb;"></div><div class="t n" style="top:287px;font-size:12.1px;line-height:14px;color:#505050;right:1182.9px;transform-origin:100% 50%;transform:scaleX(1.125);">-1704</div><div class="r" style="left:220px;top:284.52px;width:77.5px;height:17.48px;background:#68c07f;"></div><div class="t n" style="top:287px;font-size:12.1px;line-height:14px;color:#505050;right:1105.6px;transform-origin:100% 50%;transform:scaleX(1.125);">-1624</div><div class="r" style="left:297.5px;top:284.52px;width:73px;height:17.48px;background:#cae8d4;"></div><div class="t n" style="top:287px;font-size:12.1px;line-height:14px;color:#505050;right:1031.4px;transform-origin:100% 50%;transform:scaleX(1.125);">-741</div><div class="r" style="left:370.5px;top:284.52px;width:73.5px;height:17.48px;background:#b9e1c5;"></div><div class="t n" style="top:287px;font-size:12.1px;line-height:14px;color:#505050;right:959.1px;transform-origin:100% 50%;transform:scaleX(1.125);">-789</div><div class="r" style="left:444px;top:284.52px;width:77px;height:17.48px;background:#d0ead9;"></div><div class="t n" style="top:287px;font-size:12.1px;line-height:14px;color:#505050;right:880.9px;transform-origin:100% 50%;transform:scaleX(1.125);">-403</div><div class="t n" style="top:287px;font-size:12.1px;line-height:14px;color:#7f7f7f;right:810.2px;transform-origin:100% 50%;transform:scaleX(1.125);">-6116</div><div class="r" style="left:714.5px;top:284.52px;width:98px;height:17.48px;background:#ebf5f0;"></div><div class="t n" style="top:287px;font-size:12.1px;line-height:14px;color:#505050;right:589.8px;transform-origin:100% 50%;transform:scaleX(1.125);">-789</div><div class="r" style="left:812.5px;top:284.52px;width:99px;height:17.48px;background:#dff0e6;"></div><div class="t n" style="top:287px;font-size:12.1px;line-height:14px;color:#505050;right:490.8px;transform-origin:100% 50%;transform:scaleX(1.125);">-1192</div><div class="r" style="left:911.5px;top:284.52px;width:99px;height:17.48px;background:#cae8d4;"></div><div class="t n" style="top:287px;font-size:12.1px;line-height:14px;color:#505050;right:391.8px;transform-origin:100% 50%;transform:scaleX(1.125);">-1877</div><div class="t yn" style="top:303px;font-size:13.2px;line-height:14px;left:-163px;width:400px;text-align:center;transform-origin:50% 50%;transform:scaleX(1.13);">2017</div><div class="t yn" style="top:303px;font-size:13.2px;line-height:14px;left:485.85px;width:400px;text-align:center;transform-origin:50% 50%;transform:scaleX(1.13);">2017</div><div class="r" style="left:68px;top:301.7px;width:72px;height:17.48px;background:#ecf6f1;"></div><div class="t n" style="top:304px;font-size:12.1px;line-height:14px;color:#505050;right:1261.9px;transform-origin:100% 50%;transform:scaleX(1.125);">-588</div><div class="r" style="left:140px;top:301.7px;width:80px;height:17.48px;background:#fceff2;"></div><div class="t n" style="top:304px;font-size:12.1px;line-height:14px;color:#505050;right:1182.9px;transform-origin:100% 50%;transform:scaleX(1.125);">-97</div><div class="r" style="left:220px;top:301.7px;width:77.5px;height:17.48px;background:#fbcacd;"></div><div class="t n" style="top:304px;font-size:12.1px;line-height:14px;color:#505050;right:1105.6px;transform-origin:100% 50%;transform:scaleX(1.125);">734</div><div class="r" style="left:297.5px;top:301.7px;width:73px;height:17.48px;background:#fbdbde;"></div><div class="t n" style="top:304px;font-size:12.1px;line-height:14px;color:#505050;right:1031.4px;transform-origin:100% 50%;transform:scaleX(1.125);">441</div><div class="r" style="left:370.5px;top:301.7px;width:73.5px;height:17.48px;background:#fbcbcd;"></div><div class="t n" style="top:304px;font-size:12.1px;line-height:14px;color:#505050;right:959.1px;transform-origin:100% 50%;transform:scaleX(1.125);">604</div><div class="r" style="left:444px;top:301.7px;width:77px;height:17.48px;background:#f98c8e;"></div><div class="t n" style="top:304px;font-size:12.1px;line-height:14px;color:#505050;right:880.9px;transform-origin:100% 50%;transform:scaleX(1.125);">888</div><div class="t n" style="top:304px;font-size:12.1px;line-height:14px;color:#7f7f7f;right:745.2px;transform-origin:100% 50%;transform:scaleX(1.125);">1982</div><div class="r" style="left:714.5px;top:301.7px;width:98px;height:17.48px;background:#fbeaec;"></div><div class="t n" style="top:304px;font-size:12.1px;line-height:14px;color:#505050;right:589.8px;transform-origin:100% 50%;transform:scaleX(1.125);">604</div><div class="r" style="left:812.5px;top:301.7px;width:99px;height:17.48px;background:#fbd5d8;"></div><div class="t n" style="top:304px;font-size:12.1px;line-height:14px;color:#505050;right:490.8px;transform-origin:100% 50%;transform:scaleX(1.125);">1492</div><div class="r" style="left:911.5px;top:301.7px;width:99px;height:17.48px;background:#c6e6d0;"></div><div class="t n" style="top:304px;font-size:12.1px;line-height:14px;color:#505050;right:391.8px;transform-origin:100% 50%;transform:scaleX(1.125);">-2026</div><div class="t yn" style="top:320px;font-size:13.2px;line-height:14px;left:-163px;width:400px;text-align:center;transform-origin:50% 50%;transform:scaleX(1.13);">2018</div><div class="t yn" style="top:320px;font-size:13.2px;line-height:14px;left:485.85px;width:400px;text-align:center;transform-origin:50% 50%;transform:scaleX(1.13);">2018</div><div class="r" style="left:68px;top:318.88px;width:72px;height:17.48px;background:#a8dab6;"></div><div class="t n" style="top:321px;font-size:12.1px;line-height:14px;color:#505050;right:1261.9px;transform-origin:100% 50%;transform:scaleX(1.125);">-1692</div><div class="r" style="left:140px;top:318.88px;width:80px;height:17.48px;background:#a4d9b3;"></div><div class="t n" style="top:321px;font-size:12.1px;line-height:14px;color:#505050;right:1182.9px;transform-origin:100% 50%;transform:scaleX(1.125);">-1827</div><div class="r" style="left:220px;top:318.88px;width:77.5px;height:17.48px;background:#9ed6ae;"></div><div class="t n" style="top:321px;font-size:12.1px;line-height:14px;color:#505050;right:1105.6px;transform-origin:100% 50%;transform:scaleX(1.125);">-1162</div><div class="r" style="left:297.5px;top:318.88px;width:73px;height:17.48px;background:#cae8d4;"></div><div class="t n" style="top:321px;font-size:12.1px;line-height:14px;color:#505050;right:1031.4px;transform-origin:100% 50%;transform:scaleX(1.125);">-739</div><div class="r" style="left:370.5px;top:318.88px;width:73.5px;height:17.48px;background:#fcf7fa;"></div><div class="t n" style="top:321px;font-size:12.1px;line-height:14px;color:#505050;right:959.1px;transform-origin:100% 50%;transform:scaleX(1.125);">31</div><div class="r" style="left:444px;top:318.88px;width:77px;height:17.48px;background:#dff0e6;"></div><div class="t n" style="top:321px;font-size:12.1px;line-height:14px;color:#505050;right:880.9px;transform-origin:100% 50%;transform:scaleX(1.125);">-259</div><div class="t n" style="top:321px;font-size:12.1px;line-height:14px;color:#7f7f7f;right:810.2px;transform-origin:100% 50%;transform:scaleX(1.125);">-5648</div><div class="r" style="left:714.5px;top:318.88px;width:98px;height:17.48px;background:#fcf7fa;"></div><div class="t n" style="top:321px;font-size:12.1px;line-height:14px;color:#505050;right:589.8px;transform-origin:100% 50%;transform:scaleX(1.125);">31</div><div class="r" style="left:812.5px;top:318.88px;width:99px;height:17.48px;background:#fbfcfe;"></div><div class="t n" style="top:321px;font-size:12.1px;line-height:14px;color:#505050;right:490.8px;transform-origin:100% 50%;transform:scaleX(1.125);">-228</div><div class="r" style="left:911.5px;top:318.88px;width:99px;height:17.48px;background:#fbdcdf;"></div><div class="t n" style="top:321px;font-size:12.1px;line-height:14px;color:#505050;right:391.8px;transform-origin:100% 50%;transform:scaleX(1.125);">1183</div><div class="r" style="left:7px;top:336.06px;width:60px;height:17.48px;background:#8ea9db;"></div><div class="t yb" style="top:337px;font-size:13.2px;line-height:14px;left:-163px;width:400px;text-align:center;transform-origin:50% 50%;transform:scaleX(1.12);">2019</div><div class="r" style="left:658.2px;top:336.06px;width:55.3px;height:17.48px;background:#8ea9db;"></div><div class="t yb" style="top:337px;font-size:13.2px;line-height:14px;left:485.85px;width:400px;text-align:center;transform-origin:50% 50%;transform:scaleX(1.12);">2019</div><div class="r" style="left:68px;top:336.06px;width:72px;height:17.48px;background:#fcf4f7;"></div><div class="t n" style="top:338px;font-size:12.1px;line-height:14px;color:#505050;right:1261.9px;transform-origin:100% 50%;transform:scaleX(1.125);">-125</div><div class="r" style="left:140px;top:336.06px;width:80px;height:17.48px;background:#fabcbe;"></div><div class="t n" style="top:338px;font-size:12.1px;line-height:14px;color:#505050;right:1182.9px;transform-origin:100% 50%;transform:scaleX(1.125);">1536</div><div class="r" style="left:220px;top:336.06px;width:77.5px;height:17.48px;background:#fbcfd2;"></div><div class="t n" style="top:338px;font-size:12.1px;line-height:14px;color:#505050;right:1105.6px;transform-origin:100% 50%;transform:scaleX(1.125);">627</div><div class="r" style="left:297.5px;top:336.06px;width:73px;height:17.48px;background:#fcf8fb;"></div><div class="t n" style="top:338px;font-size:12.1px;line-height:14px;color:#505050;right:1031.4px;transform-origin:100% 50%;transform:scaleX(1.125);">51</div><div class="r" style="left:370.5px;top:336.06px;width:73.5px;height:17.48px;background:#fbc8ca;"></div><div class="t n" style="top:338px;font-size:12.1px;line-height:14px;color:#505050;right:959.1px;transform-origin:100% 50%;transform:scaleX(1.125);">641</div><div class="r" style="left:444px;top:336.06px;width:77px;height:17.48px;background:#fbd3d6;"></div><div class="t n" style="top:338px;font-size:12.1px;line-height:14px;color:#505050;right:880.9px;transform-origin:100% 50%;transform:scaleX(1.125);">345</div><div class="t n" style="top:338px;font-size:12.1px;line-height:14px;color:#7f7f7f;right:745.2px;transform-origin:100% 50%;transform:scaleX(1.125);">3074</div><div class="r" style="left:714.5px;top:336.06px;width:98px;height:17.48px;background:#fbe9ec;"></div><div class="t n" style="top:338px;font-size:12.1px;line-height:14px;color:#505050;right:589.8px;transform-origin:100% 50%;transform:scaleX(1.125);">641</div><div class="r" style="left:812.5px;top:336.06px;width:99px;height:17.48px;background:#fbe1e4;"></div><div class="t n" style="top:338px;font-size:12.1px;line-height:14px;color:#505050;right:490.8px;transform-origin:100% 50%;transform:scaleX(1.125);">985</div><div class="r" style="left:911.5px;top:336.06px;width:99px;height:17.48px;background:#f8696b;"></div><div class="t n" style="top:338px;font-size:12.1px;line-height:14px;color:#505050;right:391.8px;transform-origin:100% 50%;transform:scaleX(1.125);">6215</div><div class="t yn" style="top:355px;font-size:13.2px;line-height:14px;left:-163px;width:400px;text-align:center;transform-origin:50% 50%;transform:scaleX(1.13);">2020</div><div class="t yn" style="top:355px;font-size:13.2px;line-height:14px;left:485.85px;width:400px;text-align:center;transform-origin:50% 50%;transform:scaleX(1.13);">2020</div><div class="r" style="left:68px;top:353.24px;width:72px;height:17.48px;background:#f87476;"></div><div class="t n" style="top:356px;font-size:12.1px;line-height:14px;color:#505050;right:1261.9px;transform-origin:100% 50%;transform:scaleX(1.125);">3033</div><div class="r" style="left:140px;top:353.24px;width:80px;height:17.48px;background:#faa7aa;"></div><div class="t n" style="top:356px;font-size:12.1px;line-height:14px;color:#505050;right:1182.9px;transform-origin:100% 50%;transform:scaleX(1.125);">2196</div><div class="r" style="left:220px;top:353.24px;width:77.5px;height:17.48px;background:#faa3a5;"></div><div class="t n" style="top:356px;font-size:12.1px;line-height:14px;color:#505050;right:1105.6px;transform-origin:100% 50%;transform:scaleX(1.125);">1611</div><div class="r" style="left:297.5px;top:353.24px;width:73px;height:17.48px;background:#fabec1;"></div><div class="t n" style="top:356px;font-size:12.1px;line-height:14px;color:#505050;right:1031.4px;transform-origin:100% 50%;transform:scaleX(1.125);">818</div><div class="r" style="left:370.5px;top:353.24px;width:73.5px;height:17.48px;background:#c0e4cb;"></div><div class="t n" style="top:356px;font-size:12.1px;line-height:14px;color:#505050;right:959.1px;transform-origin:100% 50%;transform:scaleX(1.125);">-707</div><div class="r" style="left:444px;top:353.24px;width:77px;height:17.48px;background:#fbe9ec;"></div><div class="t n" style="top:356px;font-size:12.1px;line-height:14px;color:#505050;right:880.9px;transform-origin:100% 50%;transform:scaleX(1.125);">177</div><div class="t n" style="top:356px;font-size:12.1px;line-height:14px;color:#7f7f7f;right:745.2px;transform-origin:100% 50%;transform:scaleX(1.125);">7128</div><div class="r" style="left:714.5px;top:353.24px;width:98px;height:17.48px;background:#edf6f2;"></div><div class="t n" style="top:356px;font-size:12.1px;line-height:14px;color:#505050;right:589.8px;transform-origin:100% 50%;transform:scaleX(1.125);">-707</div><div class="r" style="left:812.5px;top:353.24px;width:99px;height:17.48px;background:#f2f8f7;"></div><div class="t n" style="top:356px;font-size:12.1px;line-height:14px;color:#505050;right:490.8px;transform-origin:100% 50%;transform:scaleX(1.125);">-531</div><div class="r" style="left:911.5px;top:353.24px;width:99px;height:17.48px;background:#f2f8f7;"></div><div class="t n" style="top:356px;font-size:12.1px;line-height:14px;color:#505050;right:391.8px;transform-origin:100% 50%;transform:scaleX(1.125);">-531</div><div class="t yn" style="top:372px;font-size:13.2px;line-height:14px;left:-163px;width:400px;text-align:center;transform-origin:50% 50%;transform:scaleX(1.13);">2021</div><div class="t yn" style="top:372px;font-size:13.2px;line-height:14px;left:485.85px;width:400px;text-align:center;transform-origin:50% 50%;transform:scaleX(1.13);">2021</div><div class="r" style="left:7px;top:431px;width:60px;height:17.73px;background:#8ea9db;"></div><div class="t yb" style="top:434px;font-size:13.2px;line-height:14px;left:-163px;width:400px;text-align:center;transform-origin:50% 50%;transform:scaleX(1.12);">2002</div><div class="r" style="left:658.2px;top:431px;width:55.3px;height:17.73px;background:#8ea9db;"></div><div class="t yb" style="top:434px;font-size:13.2px;line-height:14px;left:485.85px;width:400px;text-align:center;transform-origin:50% 50%;transform:scaleX(1.12);">2002</div><div class="r" style="left:68px;top:431px;width:72px;height:17.73px;background:#f87a7c;"></div><div class="t n" style="top:434px;font-size:12.1px;line-height:14px;color:#3a3a3a;right:1261.9px;transform-origin:100% 50%;transform:scaleX(1.125);">11278</div><div class="r" style="left:140px;top:431px;width:80px;height:17.73px;background:#def0e6;"></div><div class="t n" style="top:434px;font-size:12.1px;line-height:14px;color:#3a3a3a;right:1181.9px;transform-origin:100% 50%;transform:scaleX(1.125);">-1476</div><div class="r" style="left:220px;top:431px;width:77.5px;height:17.73px;background:#fceef0;"></div><div class="t n" style="top:434px;font-size:12.1px;line-height:14px;color:#3a3a3a;right:1104.4px;transform-origin:100% 50%;transform:scaleX(1.125);">276</div><div class="r" style="left:297.5px;top:431px;width:73px;height:17.73px;background:#c6e6d0;"></div><div class="t n" style="top:434px;font-size:12.1px;line-height:14px;color:#3a3a3a;right:1031.4px;transform-origin:100% 50%;transform:scaleX(1.125);">-1666</div><div class="r" style="left:370.5px;top:431px;width:73.5px;height:17.73px;background:#dff0e6;"></div><div class="t n" style="top:434px;font-size:12.1px;line-height:14px;color:#3a3a3a;right:958.5px;transform-origin:100% 50%;transform:scaleX(1.125);">-1015</div><div class="r" style="left:444px;top:431px;width:77px;height:17.73px;background:#75c58b;"></div><div class="t n" style="top:434px;font-size:12.1px;line-height:14px;color:#3a3a3a;right:880.9px;transform-origin:100% 50%;transform:scaleX(1.125);">-6917</div><div class="t n" style="top:434px;font-size:12.1px;line-height:14px;color:#7f7f7f;right:810.2px;transform-origin:100% 50%;transform:scaleX(1.125);">479</div><div class="r" style="left:714.5px;top:431px;width:98px;height:17.73px;background:#eff7f4;"></div><div class="t n" style="top:434px;font-size:12.1px;line-height:14px;color:#4a4a4a;right:589.8px;transform-origin:100% 50%;transform:scaleX(1.125);">-1015</div><div class="r" style="left:812.5px;top:431px;width:99px;height:17.73px;background:#bce2c8;"></div><div class="t n" style="top:434px;font-size:12.1px;line-height:14px;color:#4a4a4a;right:490.8px;transform-origin:100% 50%;transform:scaleX(1.125);">-7933</div><div class="r" style="left:911.5px;top:431px;width:99px;height:17.73px;background:#6ec385;"></div><div class="t n" style="top:434px;font-size:12.1px;line-height:14px;color:#4a4a4a;right:391.8px;transform-origin:100% 50%;transform:scaleX(1.125);">-18455</div><div class="r" style="left:7px;top:448.43px;width:60px;height:17.73px;background:#8ea9db;"></div><div class="t yb" style="top:451px;font-size:13.2px;line-height:14px;left:-163px;width:400px;text-align:center;transform-origin:50% 50%;transform:scaleX(1.12);">2003</div><div class="r" style="left:658.2px;top:448.43px;width:55.3px;height:17.73px;background:#8ea9db;"></div><div class="t yb" style="top:451px;font-size:13.2px;line-height:14px;left:485.85px;width:400px;text-align:center;transform-origin:50% 50%;transform:scaleX(1.12);">2003</div><div class="r" style="left:68px;top:448.43px;width:72px;height:17.73px;background:#89ce9c;"></div><div class="t n" style="top:451px;font-size:12.1px;line-height:14px;color:#3a3a3a;right:1261.9px;transform-origin:100% 50%;transform:scaleX(1.125);">-8757</div><div class="r" style="left:140px;top:448.43px;width:80px;height:17.73px;background:#d8eee0;"></div><div class="t n" style="top:451px;font-size:12.1px;line-height:14px;color:#3a3a3a;right:1181.9px;transform-origin:100% 50%;transform:scaleX(1.125);">-1766</div><div class="r" style="left:220px;top:448.43px;width:77.5px;height:17.73px;background:#ceead8;"></div><div class="t n" style="top:451px;font-size:12.1px;line-height:14px;color:#3a3a3a;right:1104.4px;transform-origin:100% 50%;transform:scaleX(1.125);">-1587</div><div class="r" style="left:297.5px;top:448.43px;width:73px;height:17.73px;background:#b4dfc1;"></div><div class="t n" style="top:451px;font-size:12.1px;line-height:14px;color:#3a3a3a;right:1031.4px;transform-origin:100% 50%;transform:scaleX(1.125);">-2320</div><div class="r" style="left:370.5px;top:448.43px;width:73.5px;height:17.73px;background:#8fd0a1;"></div><div class="t n" style="top:451px;font-size:12.1px;line-height:14px;color:#3a3a3a;right:958.5px;transform-origin:100% 50%;transform:scaleX(1.125);">-5136</div><div class="r" style="left:444px;top:448.43px;width:77px;height:17.73px;background:#fcf4f6;"></div><div class="t n" style="top:451px;font-size:12.1px;line-height:14px;color:#3a3a3a;right:880.9px;transform-origin:100% 50%;transform:scaleX(1.125);">382</div><div class="t n" style="top:451px;font-size:12.1px;line-height:14px;color:#7f7f7f;right:810.2px;transform-origin:100% 50%;transform:scaleX(1.125);">-19183</div><div class="r" style="left:714.5px;top:448.43px;width:98px;height:17.73px;background:#d1ebda;"></div><div class="t n" style="top:451px;font-size:12.1px;line-height:14px;color:#4a4a4a;right:589.8px;transform-origin:100% 50%;transform:scaleX(1.125);">-5136</div><div class="r" style="left:812.5px;top:448.43px;width:99px;height:17.73px;background:#d4ecdc;"></div><div class="t n" style="top:451px;font-size:12.1px;line-height:14px;color:#4a4a4a;right:490.8px;transform-origin:100% 50%;transform:scaleX(1.125);">-4754</div><div class="r" style="left:911.5px;top:448.43px;width:99px;height:17.73px;background:#bae1c6;"></div><div class="t n" style="top:451px;font-size:12.1px;line-height:14px;color:#4a4a4a;right:391.8px;transform-origin:100% 50%;transform:scaleX(1.125);">-8176</div><div class="t yn" style="top:469px;font-size:13.2px;line-height:14px;left:-163px;width:400px;text-align:center;transform-origin:50% 50%;transform:scaleX(1.13);">2004</div><div class="t yn" style="top:469px;font-size:13.2px;line-height:14px;left:485.85px;width:400px;text-align:center;transform-origin:50% 50%;transform:scaleX(1.13);">2004</div><div class="r" style="left:68px;top:465.86px;width:72px;height:17.73px;background:#edf6f2;"></div><div class="t n" style="top:469px;font-size:12.1px;line-height:14px;color:#3a3a3a;right:1261.9px;transform-origin:100% 50%;transform:scaleX(1.125);">-1723</div><div class="r" style="left:140px;top:465.86px;width:80px;height:17.73px;background:#daeee2;"></div><div class="t n" style="top:469px;font-size:12.1px;line-height:14px;color:#3a3a3a;right:1181.9px;transform-origin:100% 50%;transform:scaleX(1.125);">-1699</div><div class="r" style="left:220px;top:465.86px;width:77.5px;height:17.73px;background:#fbe8eb;"></div><div class="t n" style="top:469px;font-size:12.1px;line-height:14px;color:#3a3a3a;right:1104.4px;transform-origin:100% 50%;transform:scaleX(1.125);">424</div><div class="r" style="left:297.5px;top:465.86px;width:73px;height:17.73px;background:#fbd7da;"></div><div class="t n" style="top:469px;font-size:12.1px;line-height:14px;color:#3a3a3a;right:1031.4px;transform-origin:100% 50%;transform:scaleX(1.125);">2172</div><div class="r" style="left:370.5px;top:465.86px;width:73.5px;height:17.73px;background:#fbc7ca;"></div><div class="t n" style="top:469px;font-size:12.1px;line-height:14px;color:#3a3a3a;right:958.5px;transform-origin:100% 50%;transform:scaleX(1.125);">5006</div><div class="r" style="left:444px;top:465.86px;width:77px;height:17.73px;background:#afddbd;"></div><div class="t n" style="top:469px;font-size:12.1px;line-height:14px;color:#3a3a3a;right:880.9px;transform-origin:100% 50%;transform:scaleX(1.125);">-4065</div><div class="t n" style="top:469px;font-size:12.1px;line-height:14px;color:#7f7f7f;right:810.2px;transform-origin:100% 50%;transform:scaleX(1.125);">115</div><div class="r" style="left:714.5px;top:465.86px;width:98px;height:17.73px;background:#fbe6e9;"></div><div class="t n" style="top:469px;font-size:12.1px;line-height:14px;color:#4a4a4a;right:589.8px;transform-origin:100% 50%;transform:scaleX(1.125);">5006</div><div class="r" style="left:812.5px;top:465.86px;width:99px;height:17.73px;background:#fcfbfe;"></div><div class="t n" style="top:469px;font-size:12.1px;line-height:14px;color:#4a4a4a;right:490.8px;transform-origin:100% 50%;transform:scaleX(1.125);">941</div><div class="r" style="left:911.5px;top:465.86px;width:99px;height:17.73px;background:#fcedf0;"></div><div class="t n" style="top:469px;font-size:12.1px;line-height:14px;color:#4a4a4a;right:391.8px;transform-origin:100% 50%;transform:scaleX(1.125);">3651</div><div class="t yn" style="top:486px;font-size:13.2px;line-height:14px;left:-163px;width:400px;text-align:center;transform-origin:50% 50%;transform:scaleX(1.13);">2005</div><div class="t yn" style="top:486px;font-size:13.2px;line-height:14px;left:485.85px;width:400px;text-align:center;transform-origin:50% 50%;transform:scaleX(1.13);">2005</div><div class="r" style="left:68px;top:483.29px;width:72px;height:17.73px;background:#fbc6c9;"></div><div class="t n" style="top:486px;font-size:12.1px;line-height:14px;color:#3a3a3a;right:1261.9px;transform-origin:100% 50%;transform:scaleX(1.125);">4234</div><div class="r" style="left:140px;top:483.29px;width:80px;height:17.73px;background:#ddf0e5;"></div><div class="t n" style="top:486px;font-size:12.1px;line-height:14px;color:#3a3a3a;right:1181.9px;transform-origin:100% 50%;transform:scaleX(1.125);">-1525</div><div class="r" style="left:220px;top:483.29px;width:77.5px;height:17.73px;background:#c2e5cd;"></div><div class="t n" style="top:486px;font-size:12.1px;line-height:14px;color:#3a3a3a;right:1104.4px;transform-origin:100% 50%;transform:scaleX(1.125);">-1983</div><div class="r" style="left:297.5px;top:483.29px;width:73px;height:17.73px;background:#fcfbfe;"></div><div class="t n" style="top:486px;font-size:12.1px;line-height:14px;color:#3a3a3a;right:1031.4px;transform-origin:100% 50%;transform:scaleX(1.125);">441</div><div class="r" style="left:370.5px;top:483.29px;width:73.5px;height:17.73px;background:#a3d8b2;"></div><div class="t n" style="top:486px;font-size:12.1px;line-height:14px;color:#3a3a3a;right:958.5px;transform-origin:100% 50%;transform:scaleX(1.125);">-4097</div><div class="r" style="left:444px;top:483.29px;width:77px;height:17.73px;background:#c5e6cf;"></div><div class="t n" style="top:486px;font-size:12.1px;line-height:14px;color:#3a3a3a;right:880.9px;transform-origin:100% 50%;transform:scaleX(1.125);">-3018</div><div class="t n" style="top:486px;font-size:12.1px;line-height:14px;color:#7f7f7f;right:745.2px;transform-origin:100% 50%;transform:scaleX(1.125);">-5948</div><div class="r" style="left:714.5px;top:483.29px;width:98px;height:17.73px;background:#d9eee0;"></div><div class="t n" style="top:486px;font-size:12.1px;line-height:14px;color:#4a4a4a;right:589.8px;transform-origin:100% 50%;transform:scaleX(1.125);">-4097</div><div class="r" style="left:812.5px;top:483.29px;width:99px;height:17.73px;background:#c2e5cd;"></div><div class="t n" style="top:486px;font-size:12.1px;line-height:14px;color:#4a4a4a;right:490.8px;transform-origin:100% 50%;transform:scaleX(1.125);">-7115</div><div class="r" style="left:911.5px;top:483.29px;width:99px;height:17.73px;background:#63be7b;"></div><div class="t n" style="top:486px;font-size:12.1px;line-height:14px;color:#4a4a4a;right:391.8px;transform-origin:100% 50%;transform:scaleX(1.125);">-19993</div><div class="t yn" style="top:503px;font-size:13.2px;line-height:14px;left:-163px;width:400px;text-align:center;transform-origin:50% 50%;transform:scaleX(1.13);">2006</div><div class="t yn" style="top:503px;font-size:13.2px;line-height:14px;left:485.85px;width:400px;text-align:center;transform-origin:50% 50%;transform:scaleX(1.13);">2006</div><div class="r" style="left:68px;top:500.72px;width:72px;height:17.73px;background:#63be7b;"></div><div class="t n" style="top:504px;font-size:12.1px;line-height:14px;color:#3a3a3a;right:1261.9px;transform-origin:100% 50%;transform:scaleX(1.125);">-11444</div><div class="r" style="left:140px;top:500.72px;width:80px;height:17.73px;background:#dff0e6;"></div><div class="t n" style="top:504px;font-size:12.1px;line-height:14px;color:#3a3a3a;right:1181.9px;transform-origin:100% 50%;transform:scaleX(1.125);">-1434</div><div class="r" style="left:220px;top:500.72px;width:77.5px;height:17.73px;background:#faa4a6;"></div><div class="t n" style="top:504px;font-size:12.1px;line-height:14px;color:#3a3a3a;right:1104.4px;transform-origin:100% 50%;transform:scaleX(1.125);">2200</div><div class="r" style="left:297.5px;top:500.72px;width:73px;height:17.73px;background:#92d1a3;"></div><div class="t n" style="top:504px;font-size:12.1px;line-height:14px;color:#3a3a3a;right:1031.4px;transform-origin:100% 50%;transform:scaleX(1.125);">-3635</div><div class="r" style="left:370.5px;top:500.72px;width:73.5px;height:17.73px;background:#fcf6f9;"></div><div class="t n" style="top:504px;font-size:12.1px;line-height:14px;color:#3a3a3a;right:958.5px;transform-origin:100% 50%;transform:scaleX(1.125);">1019</div><div class="r" style="left:444px;top:500.72px;width:77px;height:17.73px;background:#f99b9d;"></div><div class="t n" style="top:504px;font-size:12.1px;line-height:14px;color:#3a3a3a;right:880.9px;transform-origin:100% 50%;transform:scaleX(1.125);">7486</div><div class="t n" style="top:504px;font-size:12.1px;line-height:14px;color:#7f7f7f;right:745.2px;transform-origin:100% 50%;transform:scaleX(1.125);">-5809</div><div class="r" style="left:714.5px;top:500.72px;width:98px;height:17.73px;background:#fcfafd;"></div><div class="t n" style="top:504px;font-size:12.1px;line-height:14px;color:#4a4a4a;right:589.8px;transform-origin:100% 50%;transform:scaleX(1.125);">1019</div><div class="r" style="left:812.5px;top:500.72px;width:99px;height:17.73px;background:#fbd5d8;"></div><div class="t n" style="top:504px;font-size:12.1px;line-height:14px;color:#4a4a4a;right:490.8px;transform-origin:100% 50%;transform:scaleX(1.125);">8505</div><div class="r" style="left:911.5px;top:500.72px;width:99px;height:17.73px;background:#f99698;"></div><div class="t n" style="top:504px;font-size:12.1px;line-height:14px;color:#4a4a4a;right:391.8px;transform-origin:100% 50%;transform:scaleX(1.125);">21050</div><div class="t yn" style="top:521px;font-size:13.2px;line-height:14px;left:-163px;width:400px;text-align:center;transform-origin:50% 50%;transform:scaleX(1.13);">2007</div><div class="t yn" style="top:521px;font-size:13.2px;line-height:14px;left:485.85px;width:400px;text-align:center;transform-origin:50% 50%;transform:scaleX(1.13);">2007</div><div class="r" style="left:68px;top:518.15px;width:72px;height:17.73px;background:#f98588;"></div><div class="t n" style="top:521px;font-size:12.1px;line-height:14px;color:#3a3a3a;right:1261.9px;transform-origin:100% 50%;transform:scaleX(1.125);">10184</div><div class="r" style="left:140px;top:518.15px;width:80px;height:17.73px;background:#fbd9db;"></div><div class="t n" style="top:521px;font-size:12.1px;line-height:14px;color:#3a3a3a;right:1181.9px;transform-origin:100% 50%;transform:scaleX(1.125);">2362</div><div class="r" style="left:220px;top:518.15px;width:77.5px;height:17.73px;background:#fcedf0;"></div><div class="t n" style="top:521px;font-size:12.1px;line-height:14px;color:#3a3a3a;right:1104.4px;transform-origin:100% 50%;transform:scaleX(1.125);">287</div><div class="r" style="left:297.5px;top:518.15px;width:73px;height:17.73px;background:#f99a9d;"></div><div class="t n" style="top:521px;font-size:12.1px;line-height:14px;color:#3a3a3a;right:1031.4px;transform-origin:100% 50%;transform:scaleX(1.125);">5051</div><div class="r" style="left:370.5px;top:518.15px;width:73.5px;height:17.73px;background:#bbe2c7;"></div><div class="t n" style="top:521px;font-size:12.1px;line-height:14px;color:#3a3a3a;right:958.5px;transform-origin:100% 50%;transform:scaleX(1.125);">-2856</div><div class="r" style="left:444px;top:518.15px;width:77px;height:17.73px;background:#fbe8eb;"></div><div class="t n" style="top:521px;font-size:12.1px;line-height:14px;color:#3a3a3a;right:880.9px;transform-origin:100% 50%;transform:scaleX(1.125);">1289</div><div class="t n" style="top:521px;font-size:12.1px;line-height:14px;color:#7f7f7f;right:745.2px;transform-origin:100% 50%;transform:scaleX(1.125);">16317</div><div class="r" style="left:714.5px;top:518.15px;width:98px;height:17.73px;background:#e2f1e8;"></div><div class="t n" style="top:521px;font-size:12.1px;line-height:14px;color:#4a4a4a;right:589.8px;transform-origin:100% 50%;transform:scaleX(1.125);">-2856</div><div class="r" style="left:812.5px;top:518.15px;width:99px;height:17.73px;background:#ebf5f1;"></div><div class="t n" style="top:521px;font-size:12.1px;line-height:14px;color:#4a4a4a;right:490.8px;transform-origin:100% 50%;transform:scaleX(1.125);">-1566</div><div class="r" style="left:911.5px;top:518.15px;width:99px;height:17.73px;background:#fbd7da;"></div><div class="t n" style="top:521px;font-size:12.1px;line-height:14px;color:#4a4a4a;right:391.8px;transform-origin:100% 50%;transform:scaleX(1.125);">7992</div><div class="t yn" style="top:538px;font-size:13.2px;line-height:14px;left:-163px;width:400px;text-align:center;transform-origin:50% 50%;transform:scaleX(1.13);">2008</div><div class="t yn" style="top:538px;font-size:13.2px;line-height:14px;left:485.85px;width:400px;text-align:center;transform-origin:50% 50%;transform:scaleX(1.13);">2008</div><div class="r" style="left:68px;top:535.58px;width:72px;height:17.73px;background:#faafb1;"></div><div class="t n" style="top:539px;font-size:12.1px;line-height:14px;color:#3a3a3a;right:1261.9px;transform-origin:100% 50%;transform:scaleX(1.125);">6404</div><div class="r" style="left:140px;top:535.58px;width:80px;height:17.73px;background:#fbcdd0;"></div><div class="t n" style="top:539px;font-size:12.1px;line-height:14px;color:#3a3a3a;right:1181.9px;transform-origin:100% 50%;transform:scaleX(1.125);">3154</div><div class="r" style="left:220px;top:535.58px;width:77.5px;height:17.73px;background:#a6d9b5;"></div><div class="t n" style="top:539px;font-size:12.1px;line-height:14px;color:#3a3a3a;right:1104.4px;transform-origin:100% 50%;transform:scaleX(1.125);">-2896</div><div class="r" style="left:297.5px;top:535.58px;width:73px;height:17.73px;background:#f99b9d;"></div><div class="t n" style="top:539px;font-size:12.1px;line-height:14px;color:#3a3a3a;right:1031.4px;transform-origin:100% 50%;transform:scaleX(1.125);">5016</div><div class="r" style="left:370.5px;top:535.58px;width:73.5px;height:17.73px;background:#edf6f2;"></div><div class="t n" style="top:539px;font-size:12.1px;line-height:14px;color:#3a3a3a;right:958.5px;transform-origin:100% 50%;transform:scaleX(1.125);">-285</div><div class="r" style="left:444px;top:535.58px;width:77px;height:17.73px;background:#bee3c9;"></div><div class="t n" style="top:539px;font-size:12.1px;line-height:14px;color:#3a3a3a;right:880.9px;transform-origin:100% 50%;transform:scaleX(1.125);">-3357</div><div class="t n" style="top:539px;font-size:12.1px;line-height:14px;color:#7f7f7f;right:745.2px;transform-origin:100% 50%;transform:scaleX(1.125);">8036</div><div class="r" style="left:714.5px;top:535.58px;width:98px;height:17.73px;background:#f5f9f9;"></div><div class="t n" style="top:539px;font-size:12.1px;line-height:14px;color:#4a4a4a;right:589.8px;transform-origin:100% 50%;transform:scaleX(1.125);">-285</div><div class="r" style="left:812.5px;top:535.58px;width:99px;height:17.73px;background:#dcefe3;"></div><div class="t n" style="top:539px;font-size:12.1px;line-height:14px;color:#4a4a4a;right:490.8px;transform-origin:100% 50%;transform:scaleX(1.125);">-3642</div><div class="r" style="left:911.5px;top:535.58px;width:99px;height:17.73px;background:#86cc99;"></div><div class="t n" style="top:539px;font-size:12.1px;line-height:14px;color:#4a4a4a;right:391.8px;transform-origin:100% 50%;transform:scaleX(1.125);">-15227</div><div class="r" style="left:7px;top:553.01px;width:60px;height:17.73px;background:#8ea9db;"></div><div class="t yb" style="top:556px;font-size:13.2px;line-height:14px;left:-163px;width:400px;text-align:center;transform-origin:50% 50%;transform:scaleX(1.12);">2009</div><div class="r" style="left:658.2px;top:553.01px;width:55.3px;height:17.73px;background:#8ea9db;"></div><div class="t yb" style="top:556px;font-size:13.2px;line-height:14px;left:485.85px;width:400px;text-align:center;transform-origin:50% 50%;transform:scaleX(1.12);">2009</div><div class="r" style="left:68px;top:553.01px;width:72px;height:17.73px;background:#8fd0a1;"></div><div class="t n" style="top:556px;font-size:12.1px;line-height:14px;color:#3a3a3a;right:1261.9px;transform-origin:100% 50%;transform:scaleX(1.125);">-8383</div><div class="r" style="left:140px;top:553.01px;width:80px;height:17.73px;background:#bae1c6;"></div><div class="t n" style="top:556px;font-size:12.1px;line-height:14px;color:#3a3a3a;right:1181.9px;transform-origin:100% 50%;transform:scaleX(1.125);">-3203</div><div class="r" style="left:220px;top:553.01px;width:77.5px;height:17.73px;background:#f8696b;"></div><div class="t n" style="top:556px;font-size:12.1px;line-height:14px;color:#3a3a3a;right:1104.4px;transform-origin:100% 50%;transform:scaleX(1.125);">3730</div><div class="r" style="left:297.5px;top:553.01px;width:73px;height:17.73px;background:#fcf3f6;"></div><div class="t n" style="top:556px;font-size:12.1px;line-height:14px;color:#3a3a3a;right:1031.4px;transform-origin:100% 50%;transform:scaleX(1.125);">827</div><div class="r" style="left:370.5px;top:553.01px;width:73.5px;height:17.73px;background:#fcfbfe;"></div><div class="t n" style="top:556px;font-size:12.1px;line-height:14px;color:#3a3a3a;right:958.5px;transform-origin:100% 50%;transform:scaleX(1.125);">570</div><div class="r" style="left:444px;top:553.01px;width:77px;height:17.73px;background:#fcf0f3;"></div><div class="t n" style="top:556px;font-size:12.1px;line-height:14px;color:#3a3a3a;right:880.9px;transform-origin:100% 50%;transform:scaleX(1.125);">652</div><div class="t n" style="top:556px;font-size:12.1px;line-height:14px;color:#7f7f7f;right:810.2px;transform-origin:100% 50%;transform:scaleX(1.125);">-5807</div><div class="r" style="left:714.5px;top:553.01px;width:98px;height:17.73px;background:#fbfcfe;"></div><div class="t n" style="top:556px;font-size:12.1px;line-height:14px;color:#4a4a4a;right:589.8px;transform-origin:100% 50%;transform:scaleX(1.125);">570</div><div class="r" style="left:812.5px;top:553.01px;width:99px;height:17.73px;background:#fcf9fc;"></div><div class="t n" style="top:556px;font-size:12.1px;line-height:14px;color:#4a4a4a;right:490.8px;transform-origin:100% 50%;transform:scaleX(1.125);">1222</div><div class="r" style="left:911.5px;top:553.01px;width:99px;height:17.73px;background:#c4e5cf;"></div><div class="t n" style="top:556px;font-size:12.1px;line-height:14px;color:#4a4a4a;right:391.8px;transform-origin:100% 50%;transform:scaleX(1.125);">-6853</div><div class="r" style="left:7px;top:570.44px;width:60px;height:17.73px;background:#8ea9db;"></div><div class="t yb" style="top:573px;font-size:13.2px;line-height:14px;left:-163px;width:400px;text-align:center;transform-origin:50% 50%;transform:scaleX(1.12);">2010</div><div class="r" style="left:658.2px;top:570.44px;width:55.3px;height:17.73px;background:#8ea9db;"></div><div class="t yb" style="top:573px;font-size:13.2px;line-height:14px;left:485.85px;width:400px;text-align:center;transform-origin:50% 50%;transform:scaleX(1.12);">2010</div><div class="r" style="left:68px;top:570.44px;width:72px;height:17.73px;background:#94d2a5;"></div><div class="t n" style="top:573px;font-size:12.1px;line-height:14px;color:#3a3a3a;right:1261.9px;transform-origin:100% 50%;transform:scaleX(1.125);">-7994</div><div class="r" style="left:140px;top:570.44px;width:80px;height:17.73px;background:#fcfcff;"></div><div class="t n" style="top:573px;font-size:12.1px;line-height:14px;color:#3a3a3a;right:1181.9px;transform-origin:100% 50%;transform:scaleX(1.125);">-80</div><div class="r" style="left:220px;top:570.44px;width:77.5px;height:17.73px;background:#9dd5ad;"></div><div class="t n" style="top:573px;font-size:12.1px;line-height:14px;color:#3a3a3a;right:1104.4px;transform-origin:100% 50%;transform:scaleX(1.125);">-3208</div><div class="r" style="left:297.5px;top:570.44px;width:73px;height:17.73px;background:#bce2c7;"></div><div class="t n" style="top:573px;font-size:12.1px;line-height:14px;color:#3a3a3a;right:1031.4px;transform-origin:100% 50%;transform:scaleX(1.125);">-2043</div><div class="r" style="left:370.5px;top:570.44px;width:73.5px;height:17.73px;background:#fbe9ec;"></div><div class="t n" style="top:573px;font-size:12.1px;line-height:14px;color:#3a3a3a;right:958.5px;transform-origin:100% 50%;transform:scaleX(1.125);">2074</div><div class="r" style="left:444px;top:570.44px;width:77px;height:17.73px;background:#a9dab8;"></div><div class="t n" style="top:573px;font-size:12.1px;line-height:14px;color:#3a3a3a;right:880.9px;transform-origin:100% 50%;transform:scaleX(1.125);">-4356</div><div class="t n" style="top:573px;font-size:12.1px;line-height:14px;color:#7f7f7f;right:810.2px;transform-origin:100% 50%;transform:scaleX(1.125);">-15608</div><div class="r" style="left:714.5px;top:570.44px;width:98px;height:17.73px;background:#fcf5f8;"></div><div class="t n" style="top:573px;font-size:12.1px;line-height:14px;color:#4a4a4a;right:589.8px;transform-origin:100% 50%;transform:scaleX(1.125);">2074</div><div class="r" style="left:812.5px;top:570.44px;width:99px;height:17.73px;background:#e6f3ec;"></div><div class="t n" style="top:573px;font-size:12.1px;line-height:14px;color:#4a4a4a;right:490.8px;transform-origin:100% 50%;transform:scaleX(1.125);">-2282</div><div class="r" style="left:911.5px;top:570.44px;width:99px;height:17.73px;background:#afddbc;"></div><div class="t n" style="top:573px;font-size:12.1px;line-height:14px;color:#4a4a4a;right:391.8px;transform-origin:100% 50%;transform:scaleX(1.125);">-9746</div><div class="t yn" style="top:591px;font-size:13.2px;line-height:14px;left:-163px;width:400px;text-align:center;transform-origin:50% 50%;transform:scaleX(1.13);">2011</div><div class="t yn" style="top:591px;font-size:13.2px;line-height:14px;left:485.85px;width:400px;text-align:center;transform-origin:50% 50%;transform:scaleX(1.13);">2011</div><div class="r" style="left:68px;top:587.87px;width:72px;height:17.73px;background:#c5e6d0;"></div><div class="t n" style="top:591px;font-size:12.1px;line-height:14px;color:#3a3a3a;right:1261.9px;transform-origin:100% 50%;transform:scaleX(1.125);">-4536</div><div class="r" style="left:140px;top:587.87px;width:80px;height:17.73px;background:#c0e4cb;"></div><div class="t n" style="top:591px;font-size:12.1px;line-height:14px;color:#3a3a3a;right:1181.9px;transform-origin:100% 50%;transform:scaleX(1.125);">-2928</div><div class="r" style="left:220px;top:587.87px;width:77.5px;height:17.73px;background:#fabbbe;"></div><div class="t n" style="top:591px;font-size:12.1px;line-height:14px;color:#3a3a3a;right:1104.4px;transform-origin:100% 50%;transform:scaleX(1.125);">1592</div><div class="r" style="left:297.5px;top:587.87px;width:73px;height:17.73px;background:#f99093;"></div><div class="t n" style="top:591px;font-size:12.1px;line-height:14px;color:#3a3a3a;right:1031.4px;transform-origin:100% 50%;transform:scaleX(1.125);">5529</div><div class="r" style="left:370.5px;top:587.87px;width:73.5px;height:17.73px;background:#fceaed;"></div><div class="t n" style="top:591px;font-size:12.1px;line-height:14px;color:#3a3a3a;right:958.5px;transform-origin:100% 50%;transform:scaleX(1.125);">2014</div><div class="r" style="left:444px;top:587.87px;width:77px;height:17.73px;background:#fac4c7;"></div><div class="t n" style="top:591px;font-size:12.1px;line-height:14px;color:#3a3a3a;right:880.9px;transform-origin:100% 50%;transform:scaleX(1.125);">4162</div><div class="t n" style="top:591px;font-size:12.1px;line-height:14px;color:#7f7f7f;right:745.2px;transform-origin:100% 50%;transform:scaleX(1.125);">5834</div><div class="r" style="left:714.5px;top:587.87px;width:98px;height:17.73px;background:#fcf5f8;"></div><div class="t n" style="top:591px;font-size:12.1px;line-height:14px;color:#111;right:589.8px;transform-origin:100% 50%;transform:scaleX(1.07);font-weight:bold;">2014</div><div class="r" style="left:812.5px;top:587.87px;width:99px;height:17.73px;background:#fbe1e3;"></div><div class="t n" style="top:591px;font-size:12.1px;line-height:14px;color:#111;right:490.8px;transform-origin:100% 50%;transform:scaleX(1.07);font-weight:bold;">6176</div><div class="r" style="left:911.5px;top:587.87px;width:99px;height:17.73px;background:#fbe4e7;"></div><div class="t n" style="top:591px;font-size:12.1px;line-height:14px;color:#111;right:391.8px;transform-origin:100% 50%;transform:scaleX(1.07);font-weight:bold;">5396</div><div class="t yn" style="top:608px;font-size:13.2px;line-height:14px;left:-163px;width:400px;text-align:center;transform-origin:50% 50%;transform:scaleX(1.13);">2012</div><div class="t yn" style="top:608px;font-size:13.2px;line-height:14px;left:485.85px;width:400px;text-align:center;transform-origin:50% 50%;transform:scaleX(1.13);">2012</div><div class="r" style="left:68px;top:605.3px;width:72px;height:17.73px;background:#fbdcdf;"></div><div class="t n" style="top:608px;font-size:12.1px;line-height:14px;color:#3a3a3a;right:1261.9px;transform-origin:100% 50%;transform:scaleX(1.125);">2228</div><div class="r" style="left:140px;top:605.3px;width:80px;height:17.73px;background:#bfe3ca;"></div><div class="t n" style="top:608px;font-size:12.1px;line-height:14px;color:#3a3a3a;right:1181.9px;transform-origin:100% 50%;transform:scaleX(1.125);">-3008</div><div class="r" style="left:220px;top:605.3px;width:77.5px;height:17.73px;background:#fab9bc;"></div><div class="t n" style="top:608px;font-size:12.1px;line-height:14px;color:#3a3a3a;right:1104.4px;transform-origin:100% 50%;transform:scaleX(1.125);">1644</div><div class="r" style="left:297.5px;top:605.3px;width:73px;height:17.73px;background:#ecf6f1;"></div><div class="t n" style="top:608px;font-size:12.1px;line-height:14px;color:#3a3a3a;right:1031.4px;transform-origin:100% 50%;transform:scaleX(1.125);">-207</div><div class="r" style="left:370.5px;top:605.3px;width:73.5px;height:17.73px;background:#f2f8f6;"></div><div class="t n" style="top:608px;font-size:12.1px;line-height:14px;color:#3a3a3a;right:958.5px;transform-origin:100% 50%;transform:scaleX(1.125);">-10</div><div class="r" style="left:444px;top:605.3px;width:77px;height:17.73px;background:#f3f8f7;"></div><div class="t n" style="top:608px;font-size:12.1px;line-height:14px;color:#3a3a3a;right:880.9px;transform-origin:100% 50%;transform:scaleX(1.125);">-756</div><div class="t n" style="top:608px;font-size:12.1px;line-height:14px;color:#7f7f7f;right:745.2px;transform-origin:100% 50%;transform:scaleX(1.125);">-109</div><div class="r" style="left:714.5px;top:605.3px;width:98px;height:17.73px;background:#f7fafa;"></div><div class="t n" style="top:608px;font-size:12.1px;line-height:14px;color:#4a4a4a;right:589.8px;transform-origin:100% 50%;transform:scaleX(1.125);">-10</div><div class="r" style="left:812.5px;top:605.3px;width:99px;height:17.73px;background:#f1f8f6;"></div><div class="t n" style="top:608px;font-size:12.1px;line-height:14px;color:#4a4a4a;right:490.8px;transform-origin:100% 50%;transform:scaleX(1.125);">-766</div><div class="r" style="left:911.5px;top:605.3px;width:99px;height:17.73px;background:#a9dab7;"></div><div class="t n" style="top:608px;font-size:12.1px;line-height:14px;color:#4a4a4a;right:391.8px;transform-origin:100% 50%;transform:scaleX(1.125);">-10557</div><div class="t yn" style="top:625px;font-size:13.2px;line-height:14px;left:-163px;width:400px;text-align:center;transform-origin:50% 50%;transform:scaleX(1.13);">2013</div><div class="t yn" style="top:625px;font-size:13.2px;line-height:14px;left:485.85px;width:400px;text-align:center;transform-origin:50% 50%;transform:scaleX(1.13);">2013</div><div class="r" style="left:68px;top:622.73px;width:72px;height:17.73px;background:#93d1a4;"></div><div class="t n" style="top:626px;font-size:12.1px;line-height:14px;color:#3a3a3a;right:1261.9px;transform-origin:100% 50%;transform:scaleX(1.125);">-8078</div><div class="r" style="left:140px;top:622.73px;width:80px;height:17.73px;background:#daeee1;"></div><div class="t n" style="top:626px;font-size:12.1px;line-height:14px;color:#3a3a3a;right:1181.9px;transform-origin:100% 50%;transform:scaleX(1.125);">-1714</div><div class="r" style="left:220px;top:622.73px;width:77.5px;height:17.73px;background:#fbc7ca;"></div><div class="t n" style="top:626px;font-size:12.1px;line-height:14px;color:#3a3a3a;right:1104.4px;transform-origin:100% 50%;transform:scaleX(1.125);">1284</div><div class="r" style="left:297.5px;top:622.73px;width:73px;height:17.73px;background:#71c387;"></div><div class="t n" style="top:626px;font-size:12.1px;line-height:14px;color:#3a3a3a;right:1031.4px;transform-origin:100% 50%;transform:scaleX(1.125);">-4888</div><div class="r" style="left:370.5px;top:622.73px;width:73.5px;height:17.73px;background:#fbe7e9;"></div><div class="t n" style="top:626px;font-size:12.1px;line-height:14px;color:#3a3a3a;right:958.5px;transform-origin:100% 50%;transform:scaleX(1.125);">2316</div><div class="r" style="left:444px;top:622.73px;width:77px;height:17.73px;background:#fbe1e4;"></div><div class="t n" style="top:626px;font-size:12.1px;line-height:14px;color:#3a3a3a;right:880.9px;transform-origin:100% 50%;transform:scaleX(1.125);">1886</div><div class="t n" style="top:626px;font-size:12.1px;line-height:14px;color:#7f7f7f;right:810.2px;transform-origin:100% 50%;transform:scaleX(1.125);">-9194</div><div class="r" style="left:714.5px;top:622.73px;width:98px;height:17.73px;background:#fcf4f7;"></div><div class="t n" style="top:626px;font-size:12.1px;line-height:14px;color:#303030;right:589.8px;transform-origin:100% 50%;transform:scaleX(1.125);">2316</div><div class="r" style="left:812.5px;top:622.73px;width:99px;height:17.73px;background:#fceaed;"></div><div class="t n" style="top:626px;font-size:12.1px;line-height:14px;color:#303030;right:490.8px;transform-origin:100% 50%;transform:scaleX(1.125);">4201</div><div class="r" style="left:911.5px;top:622.73px;width:99px;height:17.73px;background:#fcf0f3;"></div><div class="t n" style="top:626px;font-size:12.1px;line-height:14px;color:#303030;right:391.8px;transform-origin:100% 50%;transform:scaleX(1.125);">3158</div><div class="r" style="left:7px;top:640.16px;width:60px;height:17.73px;background:#8ea9db;"></div><div class="t yb" style="top:643px;font-size:13.2px;line-height:14px;left:-163px;width:400px;text-align:center;transform-origin:50% 50%;transform:scaleX(1.12);">2014</div><div class="r" style="left:658.2px;top:640.16px;width:55.3px;height:17.73px;background:#8ea9db;"></div><div class="t yb" style="top:643px;font-size:13.2px;line-height:14px;left:485.85px;width:400px;text-align:center;transform-origin:50% 50%;transform:scaleX(1.12);">2014</div><div class="r" style="left:68px;top:640.16px;width:72px;height:17.73px;background:#fbdde0;"></div><div class="t n" style="top:643px;font-size:12.1px;line-height:14px;color:#3a3a3a;right:1261.9px;transform-origin:100% 50%;transform:scaleX(1.125);">2154</div><div class="r" style="left:140px;top:640.16px;width:80px;height:17.73px;background:#bbe2c7;"></div><div class="t n" style="top:643px;font-size:12.1px;line-height:14px;color:#3a3a3a;right:1181.9px;transform-origin:100% 50%;transform:scaleX(1.125);">-3197</div><div class="r" style="left:220px;top:640.16px;width:77.5px;height:17.73px;background:#d3ebdc;"></div><div class="t n" style="top:643px;font-size:12.1px;line-height:14px;color:#3a3a3a;right:1104.4px;transform-origin:100% 50%;transform:scaleX(1.125);">-1433</div><div class="r" style="left:297.5px;top:640.16px;width:73px;height:17.73px;background:#e5f3eb;"></div><div class="t n" style="top:643px;font-size:12.1px;line-height:14px;color:#3a3a3a;right:1031.4px;transform-origin:100% 50%;transform:scaleX(1.125);">-459</div><div class="r" style="left:370.5px;top:640.16px;width:73.5px;height:17.73px;background:#84cb98;"></div><div class="t n" style="top:643px;font-size:12.1px;line-height:14px;color:#3a3a3a;right:958.5px;transform-origin:100% 50%;transform:scaleX(1.125);">-5681</div><div class="r" style="left:444px;top:640.16px;width:77px;height:17.73px;background:#fbfcfe;"></div><div class="t n" style="top:643px;font-size:12.1px;line-height:14px;color:#3a3a3a;right:880.9px;transform-origin:100% 50%;transform:scaleX(1.125);">-356</div><div class="t n" style="top:643px;font-size:12.1px;line-height:14px;color:#7f7f7f;right:810.2px;transform-origin:100% 50%;transform:scaleX(1.125);">-8973</div><div class="r" style="left:714.5px;top:640.16px;width:98px;height:17.73px;background:#cde9d6;"></div><div class="t n" style="top:643px;font-size:12.1px;line-height:14px;color:#4a4a4a;right:589.8px;transform-origin:100% 50%;transform:scaleX(1.125);">-5681</div><div class="r" style="left:812.5px;top:640.16px;width:99px;height:17.73px;background:#cae8d4;"></div><div class="t n" style="top:643px;font-size:12.1px;line-height:14px;color:#4a4a4a;right:490.8px;transform-origin:100% 50%;transform:scaleX(1.125);">-6037</div><div class="r" style="left:911.5px;top:640.16px;width:99px;height:17.73px;background:#c5e6cf;"></div><div class="t n" style="top:643px;font-size:12.1px;line-height:14px;color:#4a4a4a;right:391.8px;transform-origin:100% 50%;transform:scaleX(1.125);">-6782</div><div class="t yn" style="top:660px;font-size:13.2px;line-height:14px;left:-163px;width:400px;text-align:center;transform-origin:50% 50%;transform:scaleX(1.13);">2015</div><div class="t yn" style="top:660px;font-size:13.2px;line-height:14px;left:485.85px;width:400px;text-align:center;transform-origin:50% 50%;transform:scaleX(1.13);">2015</div><div class="r" style="left:68px;top:657.59px;width:72px;height:17.73px;background:#fcfcff;"></div><div class="t n" style="top:661px;font-size:12.1px;line-height:14px;color:#3a3a3a;right:1261.9px;transform-origin:100% 50%;transform:scaleX(1.125);">-700</div><div class="r" style="left:140px;top:657.59px;width:80px;height:17.73px;background:#fcfcff;"></div><div class="t n" style="top:661px;font-size:12.1px;line-height:14px;color:#3a3a3a;right:1181.9px;transform-origin:100% 50%;transform:scaleX(1.125);">-44</div><div class="r" style="left:220px;top:657.59px;width:77.5px;height:17.73px;background:#fabec1;"></div><div class="t n" style="top:661px;font-size:12.1px;line-height:14px;color:#3a3a3a;right:1104.4px;transform-origin:100% 50%;transform:scaleX(1.125);">1504</div><div class="r" style="left:297.5px;top:657.59px;width:73px;height:17.73px;background:#fbd0d3;"></div><div class="t n" style="top:661px;font-size:12.1px;line-height:14px;color:#3a3a3a;right:1031.4px;transform-origin:100% 50%;transform:scaleX(1.125);">2473</div><div class="r" style="left:370.5px;top:657.59px;width:73.5px;height:17.73px;background:#82cb96;"></div><div class="t n" style="top:661px;font-size:12.1px;line-height:14px;color:#3a3a3a;right:958.5px;transform-origin:100% 50%;transform:scaleX(1.125);">-5803</div><div class="r" style="left:444px;top:657.59px;width:77px;height:17.73px;background:#f87476;"></div><div class="t n" style="top:661px;font-size:12.1px;line-height:14px;color:#3a3a3a;right:880.9px;transform-origin:100% 50%;transform:scaleX(1.125);">10585</div><div class="t n" style="top:661px;font-size:12.1px;line-height:14px;color:#7f7f7f;right:745.2px;transform-origin:100% 50%;transform:scaleX(1.125);">8014</div><div class="r" style="left:714.5px;top:657.59px;width:98px;height:17.73px;background:#cce9d6;"></div><div class="t n" style="top:661px;font-size:12.1px;line-height:14px;color:#303030;right:589.8px;transform-origin:100% 50%;transform:scaleX(1.125);">-5803</div><div class="r" style="left:812.5px;top:657.59px;width:99px;height:17.73px;background:#fbe8ea;"></div><div class="t n" style="top:661px;font-size:12.1px;line-height:14px;color:#303030;right:490.8px;transform-origin:100% 50%;transform:scaleX(1.125);">4783</div><div class="r" style="left:911.5px;top:657.59px;width:99px;height:17.73px;background:#fcf3f6;"></div><div class="t n" style="top:661px;font-size:12.1px;line-height:14px;color:#303030;right:391.8px;transform-origin:100% 50%;transform:scaleX(1.125);">2543</div><div class="t yn" style="top:678px;font-size:13.2px;line-height:14px;left:-163px;width:400px;text-align:center;transform-origin:50% 50%;transform:scaleX(1.13);">2016</div><div class="t yn" style="top:678px;font-size:13.2px;line-height:14px;left:485.85px;width:400px;text-align:center;transform-origin:50% 50%;transform:scaleX(1.13);">2016</div><div class="r" style="left:68px;top:675.02px;width:72px;height:17.73px;background:#fbdadc;"></div><div class="t n" style="top:678px;font-size:12.1px;line-height:14px;color:#3a3a3a;right:1261.9px;transform-origin:100% 50%;transform:scaleX(1.125);">2455</div><div class="r" style="left:140px;top:675.02px;width:80px;height:17.73px;background:#9bd5ac;"></div><div class="t n" style="top:678px;font-size:12.1px;line-height:14px;color:#3a3a3a;right:1181.9px;transform-origin:100% 50%;transform:scaleX(1.125);">-4695</div><div class="r" style="left:220px;top:675.02px;width:77.5px;height:17.73px;background:#bde2c8;"></div><div class="t n" style="top:678px;font-size:12.1px;line-height:14px;color:#3a3a3a;right:1104.4px;transform-origin:100% 50%;transform:scaleX(1.125);">-2168</div><div class="r" style="left:297.5px;top:675.02px;width:73px;height:17.73px;background:#dff0e6;"></div><div class="t n" style="top:678px;font-size:12.1px;line-height:14px;color:#3a3a3a;right:1031.4px;transform-origin:100% 50%;transform:scaleX(1.125);">-691</div><div class="r" style="left:370.5px;top:675.02px;width:73.5px;height:17.73px;background:#63be7b;"></div><div class="t n" style="top:678px;font-size:12.1px;line-height:14px;color:#3a3a3a;right:958.5px;transform-origin:100% 50%;transform:scaleX(1.125);">-7962</div><div class="r" style="left:444px;top:675.02px;width:77px;height:17.73px;background:#b7e0c3;"></div><div class="t n" style="top:678px;font-size:12.1px;line-height:14px;color:#3a3a3a;right:880.9px;transform-origin:100% 50%;transform:scaleX(1.125);">-3703</div><div class="t n" style="top:678px;font-size:12.1px;line-height:14px;color:#7f7f7f;right:810.2px;transform-origin:100% 50%;transform:scaleX(1.125);">-16764</div><div class="r" style="left:714.5px;top:675.02px;width:98px;height:17.73px;background:#bce2c8;"></div><div class="t n" style="top:678px;font-size:12.1px;line-height:14px;color:#4a4a4a;right:589.8px;transform-origin:100% 50%;transform:scaleX(1.125);">-7962</div><div class="r" style="left:812.5px;top:675.02px;width:99px;height:17.73px;background:#a1d7b0;"></div><div class="t n" style="top:678px;font-size:12.1px;line-height:14px;color:#4a4a4a;right:490.8px;transform-origin:100% 50%;transform:scaleX(1.125);">-11665</div><div class="r" style="left:911.5px;top:675.02px;width:99px;height:17.73px;background:#83cb97;"></div><div class="t n" style="top:678px;font-size:12.1px;line-height:14px;color:#4a4a4a;right:391.8px;transform-origin:100% 50%;transform:scaleX(1.125);">-15667</div><div class="t yn" style="top:695px;font-size:13.2px;line-height:14px;left:-163px;width:400px;text-align:center;transform-origin:50% 50%;transform:scaleX(1.13);">2017</div><div class="t yn" style="top:695px;font-size:13.2px;line-height:14px;left:485.85px;width:400px;text-align:center;transform-origin:50% 50%;transform:scaleX(1.13);">2017</div><div class="r" style="left:68px;top:692.45px;width:72px;height:17.73px;background:#c9e7d3;"></div><div class="t n" style="top:695px;font-size:12.1px;line-height:14px;color:#3a3a3a;right:1261.9px;transform-origin:100% 50%;transform:scaleX(1.125);">-4313</div><div class="r" style="left:140px;top:692.45px;width:80px;height:17.73px;background:#fcf7fa;"></div><div class="t n" style="top:695px;font-size:12.1px;line-height:14px;color:#3a3a3a;right:1181.9px;transform-origin:100% 50%;transform:scaleX(1.125);">310</div><div class="r" style="left:220px;top:692.45px;width:77.5px;height:17.73px;background:#fbdfe2;"></div><div class="t n" style="top:695px;font-size:12.1px;line-height:14px;color:#3a3a3a;right:1104.4px;transform-origin:100% 50%;transform:scaleX(1.125);">657</div><div class="r" style="left:297.5px;top:692.45px;width:73px;height:17.73px;background:#d7eddf;"></div><div class="t n" style="top:695px;font-size:12.1px;line-height:14px;color:#3a3a3a;right:1031.4px;transform-origin:100% 50%;transform:scaleX(1.125);">-985</div><div class="r" style="left:370.5px;top:692.45px;width:73.5px;height:17.73px;background:#fbd2d5;"></div><div class="t n" style="top:695px;font-size:12.1px;line-height:14px;color:#3a3a3a;right:958.5px;transform-origin:100% 50%;transform:scaleX(1.125);">4042</div><div class="r" style="left:444px;top:692.45px;width:77px;height:17.73px;background:#fbccce;"></div><div class="t n" style="top:695px;font-size:12.1px;line-height:14px;color:#3a3a3a;right:880.9px;transform-origin:100% 50%;transform:scaleX(1.125);">3569</div><div class="t n" style="top:695px;font-size:12.1px;line-height:14px;color:#7f7f7f;right:745.2px;transform-origin:100% 50%;transform:scaleX(1.125);">3280</div><div class="r" style="left:714.5px;top:692.45px;width:98px;height:17.73px;background:#fcebee;"></div><div class="t n" style="top:695px;font-size:12.1px;line-height:14px;color:#4a4a4a;right:589.8px;transform-origin:100% 50%;transform:scaleX(1.125);">4042</div><div class="r" style="left:812.5px;top:692.45px;width:99px;height:17.73px;background:#fbd9dc;"></div><div class="t n" style="top:695px;font-size:12.1px;line-height:14px;color:#4a4a4a;right:490.8px;transform-origin:100% 50%;transform:scaleX(1.125);">7611</div><div class="r" style="left:911.5px;top:692.45px;width:99px;height:17.73px;background:#fbeaec;"></div><div class="t n" style="top:695px;font-size:12.1px;line-height:14px;color:#4a4a4a;right:391.8px;transform-origin:100% 50%;transform:scaleX(1.125);">4384</div><div class="t yn" style="top:713px;font-size:13.2px;line-height:14px;left:-163px;width:400px;text-align:center;transform-origin:50% 50%;transform:scaleX(1.13);">2018</div><div class="t yn" style="top:713px;font-size:13.2px;line-height:14px;left:485.85px;width:400px;text-align:center;transform-origin:50% 50%;transform:scaleX(1.13);">2018</div><div class="r" style="left:68px;top:709.88px;width:72px;height:17.73px;background:#dbeee2;"></div><div class="t n" style="top:713px;font-size:12.1px;line-height:14px;color:#3a3a3a;right:1261.9px;transform-origin:100% 50%;transform:scaleX(1.125);">-3044</div><div class="r" style="left:140px;top:709.88px;width:80px;height:17.73px;background:#f9fbfd;"></div><div class="t n" style="top:713px;font-size:12.1px;line-height:14px;color:#3a3a3a;right:1181.9px;transform-origin:100% 50%;transform:scaleX(1.125);">-183</div><div class="r" style="left:220px;top:709.88px;width:77.5px;height:17.73px;background:#c4e5cf;"></div><div class="t n" style="top:713px;font-size:12.1px;line-height:14px;color:#3a3a3a;right:1104.4px;transform-origin:100% 50%;transform:scaleX(1.125);">-1919</div><div class="r" style="left:297.5px;top:709.88px;width:73px;height:17.73px;background:#7ac78f;"></div><div class="t n" style="top:713px;font-size:12.1px;line-height:14px;color:#3a3a3a;right:1031.4px;transform-origin:100% 50%;transform:scaleX(1.125);">-4541</div><div class="r" style="left:370.5px;top:709.88px;width:73.5px;height:17.73px;background:#e9f4ef;"></div><div class="t n" style="top:713px;font-size:12.1px;line-height:14px;color:#3a3a3a;right:958.5px;transform-origin:100% 50%;transform:scaleX(1.125);">-461</div><div class="r" style="left:444px;top:709.88px;width:77px;height:17.73px;background:#f2f8f6;"></div><div class="t n" style="top:713px;font-size:12.1px;line-height:14px;color:#3a3a3a;right:880.9px;transform-origin:100% 50%;transform:scaleX(1.125);">-797</div><div class="t n" style="top:713px;font-size:12.1px;line-height:14px;color:#7f7f7f;right:810.2px;transform-origin:100% 50%;transform:scaleX(1.125);">-10944</div><div class="r" style="left:714.5px;top:709.88px;width:98px;height:17.73px;background:#f3f9f8;"></div><div class="t n" style="top:713px;font-size:12.1px;line-height:14px;color:#4a4a4a;right:589.8px;transform-origin:100% 50%;transform:scaleX(1.125);">-461</div><div class="r" style="left:812.5px;top:709.88px;width:99px;height:17.73px;background:#eef6f3;"></div><div class="t n" style="top:713px;font-size:12.1px;line-height:14px;color:#4a4a4a;right:490.8px;transform-origin:100% 50%;transform:scaleX(1.125);">-1258</div><div class="r" style="left:911.5px;top:709.88px;width:99px;height:17.73px;background:#fcebee;"></div><div class="t n" style="top:713px;font-size:12.1px;line-height:14px;color:#4a4a4a;right:391.8px;transform-origin:100% 50%;transform:scaleX(1.125);">3997</div><div class="r" style="left:7px;top:727.31px;width:60px;height:17.73px;background:#8ea9db;"></div><div class="t yb" style="top:730px;font-size:13.2px;line-height:14px;left:-163px;width:400px;text-align:center;transform-origin:50% 50%;transform:scaleX(1.12);">2019</div><div class="r" style="left:658.2px;top:727.31px;width:55.3px;height:17.73px;background:#8ea9db;"></div><div class="t yb" style="top:730px;font-size:13.2px;line-height:14px;left:485.85px;width:400px;text-align:center;transform-origin:50% 50%;transform:scaleX(1.12);">2019</div><div class="r" style="left:68px;top:727.31px;width:72px;height:17.73px;background:#fcfbfe;"></div><div class="t n" style="top:730px;font-size:12.1px;line-height:14px;color:#3a3a3a;right:1261.9px;transform-origin:100% 50%;transform:scaleX(1.125);">-610</div><div class="r" style="left:140px;top:727.31px;width:80px;height:17.73px;background:#faa5a8;"></div><div class="t n" style="top:730px;font-size:12.1px;line-height:14px;color:#3a3a3a;right:1181.9px;transform-origin:100% 50%;transform:scaleX(1.125);">5864</div><div class="r" style="left:220px;top:727.31px;width:77.5px;height:17.73px;background:#e2f2e9;"></div><div class="t n" style="top:730px;font-size:12.1px;line-height:14px;color:#3a3a3a;right:1104.4px;transform-origin:100% 50%;transform:scaleX(1.125);">-935</div><div class="r" style="left:297.5px;top:727.31px;width:73px;height:17.73px;background:#bae1c6;"></div><div class="t n" style="top:730px;font-size:12.1px;line-height:14px;color:#3a3a3a;right:1031.4px;transform-origin:100% 50%;transform:scaleX(1.125);">-2099</div><div class="r" style="left:370.5px;top:727.31px;width:73.5px;height:17.73px;background:#fcf1f4;"></div><div class="t n" style="top:730px;font-size:12.1px;line-height:14px;color:#3a3a3a;right:958.5px;transform-origin:100% 50%;transform:scaleX(1.125);">1403</div><div class="r" style="left:444px;top:727.31px;width:77px;height:17.73px;background:#dff0e6;"></div><div class="t n" style="top:730px;font-size:12.1px;line-height:14px;color:#3a3a3a;right:880.9px;transform-origin:100% 50%;transform:scaleX(1.125);">-1745</div><div class="t n" style="top:730px;font-size:12.1px;line-height:14px;color:#7f7f7f;right:745.2px;transform-origin:100% 50%;transform:scaleX(1.125);">1877</div><div class="r" style="left:714.5px;top:727.31px;width:98px;height:17.73px;background:#fcf8fb;"></div><div class="t n" style="top:730px;font-size:12.1px;line-height:14px;color:#4a4a4a;right:589.8px;transform-origin:100% 50%;transform:scaleX(1.125);">1403</div><div class="r" style="left:812.5px;top:727.31px;width:99px;height:17.73px;background:#f4f9f8;"></div><div class="t n" style="top:730px;font-size:12.1px;line-height:14px;color:#4a4a4a;right:490.8px;transform-origin:100% 50%;transform:scaleX(1.125);">-342</div><div class="r" style="left:911.5px;top:727.31px;width:99px;height:17.73px;background:#fac3c5;"></div><div class="t n" style="top:730px;font-size:12.1px;line-height:14px;color:#4a4a4a;right:391.8px;transform-origin:100% 50%;transform:scaleX(1.125);">12109</div><div class="t yn" style="top:747px;font-size:13.2px;line-height:14px;left:-163px;width:400px;text-align:center;transform-origin:50% 50%;transform:scaleX(1.13);">2020</div><div class="t yn" style="top:747px;font-size:13.2px;line-height:14px;left:485.85px;width:400px;text-align:center;transform-origin:50% 50%;transform:scaleX(1.13);">2020</div><div class="r" style="left:68px;top:744.74px;width:72px;height:17.73px;background:#f87678;"></div><div class="t n" style="top:748px;font-size:12.1px;line-height:14px;color:#3a3a3a;right:1261.9px;transform-origin:100% 50%;transform:scaleX(1.125);">11628</div><div class="r" style="left:140px;top:744.74px;width:80px;height:17.73px;background:#fceff2;"></div><div class="t n" style="top:748px;font-size:12.1px;line-height:14px;color:#3a3a3a;right:1181.9px;transform-origin:100% 50%;transform:scaleX(1.125);">823</div><div class="r" style="left:220px;top:744.74px;width:77.5px;height:17.73px;background:#bce2c8;"></div><div class="t n" style="top:748px;font-size:12.1px;line-height:14px;color:#3a3a3a;right:1104.4px;transform-origin:100% 50%;transform:scaleX(1.125);">-2188</div><div class="r" style="left:297.5px;top:744.74px;width:73px;height:17.73px;background:#d8ede0;"></div><div class="t n" style="top:748px;font-size:12.1px;line-height:14px;color:#3a3a3a;right:1031.4px;transform-origin:100% 50%;transform:scaleX(1.125);">-970</div><div class="r" style="left:370.5px;top:744.74px;width:73.5px;height:17.73px;background:#eaf5ef;"></div><div class="t n" style="top:748px;font-size:12.1px;line-height:14px;color:#3a3a3a;right:958.5px;transform-origin:100% 50%;transform:scaleX(1.125);">-435</div><div class="r" style="left:444px;top:744.74px;width:77px;height:17.73px;background:#9ad4aa;"></div><div class="t n" style="top:748px;font-size:12.1px;line-height:14px;color:#3a3a3a;right:880.9px;transform-origin:100% 50%;transform:scaleX(1.125);">-5113</div><div class="t n" style="top:748px;font-size:12.1px;line-height:14px;color:#7f7f7f;right:745.2px;transform-origin:100% 50%;transform:scaleX(1.125);">3747</div><div class="r" style="left:714.5px;top:744.74px;width:98px;height:17.73px;background:#f4f9f8;"></div><div class="t n" style="top:748px;font-size:12.1px;line-height:14px;color:#4a4a4a;right:589.8px;transform-origin:100% 50%;transform:scaleX(1.125);">-435</div><div class="r" style="left:812.5px;top:744.74px;width:99px;height:17.73px;background:#cee9d7;"></div><div class="t n" style="top:748px;font-size:12.1px;line-height:14px;color:#4a4a4a;right:490.8px;transform-origin:100% 50%;transform:scaleX(1.125);">-5547</div><div class="r" style="left:911.5px;top:744.74px;width:99px;height:17.73px;background:#cee9d7;"></div><div class="t n" style="top:748px;font-size:12.1px;line-height:14px;color:#4a4a4a;right:391.8px;transform-origin:100% 50%;transform:scaleX(1.125);">-5547</div><div class="t yn" style="top:765px;font-size:13.2px;line-height:14px;left:-163px;width:400px;text-align:center;transform-origin:50% 50%;transform:scaleX(1.13);">2021</div><div class="t yn" style="top:765px;font-size:13.2px;line-height:14px;left:485.85px;width:400px;text-align:center;transform-origin:50% 50%;transform:scaleX(1.13);">2021</div><div class="t hb" style="top:411px;font-size:11.6px;line-height:14px;left:78.35px;transform-origin:0 50%;transform:scaleX(1.098);">Jan-Feb</div><div class="t hb" style="top:411px;font-size:11.6px;line-height:14px;left:153.61px;transform-origin:0 50%;transform:scaleX(1.174);">Mar-Apr</div><div class="t hb" style="top:411px;font-size:11.6px;line-height:14px;left:231.13px;transform-origin:0 50%;transform:scaleX(1.149);">May-Jun</div><div class="t hb" style="top:411px;font-size:11.6px;line-height:14px;left:310.05px;transform-origin:0 50%;transform:scaleX(1.091);">Jul-Aug</div><div class="t hb" style="top:411px;font-size:11.6px;line-height:14px;left:381.74px;transform-origin:0 50%;transform:scaleX(1.128);">Sep-Oct</div><div class="t hb" style="top:411px;font-size:11.6px;line-height:14px;left:465.03px;transform-origin:0 50%;transform:scaleX(1.132);">Nov-Dec</div><div class="t hb" style="top:411px;font-size:11.6px;line-height:14px;left:544.37px;transform-origin:0 50%;transform:scaleX(1.059);">DRY</div><div class="t hb" style="top:411px;font-size:11.6px;line-height:14px;left:609.67px;transform-origin:0 50%;transform:scaleX(1.262);">Wet</div><div class="t tb" style="top:385px;font-size:11.6px;line-height:14px;left:389.5px;width:400px;text-align:center;transform-origin:50% 50%;transform:scaleX(1.1);">Year</div><div class="r" style="left:67px;top:43px;width:1px;height:345.1px;background:#262626;"></div><div class="r" style="left:521px;top:43px;width:1px;height:345.1px;background:#262626;"></div><div class="r" style="left:657.3px;top:43px;width:1px;height:345.1px;background:#262626;"></div><div class="r" style="left:713.2px;top:43px;width:1px;height:345.1px;background:#262626;"></div><div class="r" style="left:911px;top:44px;width:1px;height:344.1px;background:#262626;"></div><div class="r" style="left:1010.3px;top:44px;width:1px;height:344.1px;background:#262626;"></div><div class="r" style="left:67px;top:387.1px;width:591.3px;height:1px;background:#262626;"></div><div class="r" style="left:713.2px;top:387.1px;width:298.1px;height:1px;background:#262626;"></div><div class="r" style="left:521px;top:46px;width:137.3px;height:1px;background:#262626;"></div><div class="r" style="left:713.2px;top:369.92px;width:298.1px;height:1px;background:#262626;"></div><div class="r" style="left:65.5px;top:425px;width:592.8px;height:1px;background:#262626;"></div><div class="r" style="left:6px;top:425px;width:59.5px;height:1px;background:#ececec;"></div><div class="r" style="left:67px;top:430px;width:1px;height:350.4px;background:#262626;"></div><div class="r" style="left:521px;top:430px;width:1px;height:350.4px;background:#262626;"></div><div class="r" style="left:657.3px;top:430px;width:1px;height:350.4px;background:#262626;"></div><div class="r" style="left:713.2px;top:430px;width:1px;height:350.4px;background:#262626;"></div><div class="r" style="left:911px;top:430px;width:1px;height:350.4px;background:#262626;"></div><div class="r" style="left:1010.3px;top:430px;width:1px;height:350.4px;background:#262626;"></div><div class="r" style="left:67px;top:779.4px;width:591.3px;height:1px;background:#262626;"></div><div class="r" style="left:713.2px;top:779.4px;width:298.1px;height:1px;background:#262626;"></div><div class="r" style="left:713.2px;top:761.67px;width:298.1px;height:1px;background:#262626;"></div>
<div id="frameL"></div><div id="frameB"></div><div id="frameR"></div>

<div id="band"></div>
<div id="title">
<div style="top:39.27px;left:-1.6px"><span style="transform:scaleX(0.968);font-weight:bold">NC vs DEU:</span></div>
<div style="top:39.27px;left:192.6px"><span style="transform:scaleX(1.035)">Sum</span></div>
<div style="top:78.27px"><span style="transform:scaleX(1.078)">wind according to</span></div>
<div style="top:117.27px"><span style="transform:scaleX(1.098)">the normal</span></div>
</div>
<div id="body">
<div><b>Atmospheric setup similar to 2021 autumn</b></div>
<div><b>is (6 years):</b></div>
<div class="i1"><span class="bu b1">&#10146;</span>02, 03, 09, 10, 14, 19</div>
<div class="i1"><span class="bu b1">&#10146;</span>2006 risk must be called off by the SSW</div>
<div class="i1">effect and new WaF into Nov =&gt; then 84 is</div>
<div class="i1">also likely</div>
<div></div>
<div><b>Sum precipitation according to normal</b></div>
<div><b>from Sept to specific dates:</b></div>
<div><b class="u">01.11.21:</b></div>
<div class="i2"><span class="bu b2">&#8658;</span>All years are accum +2 Twh or drier</div>
<div class="i2"><span class="bu b2">&#8658;</span>2006 extreme WWW, 1984 +14 Twh</div>
<div></div>
<div><b>01.01.22:</b></div>
<div class="i2"><span class="bu b2">&#8658;</span>All years are accum +1 Twh or drier</div>
<div class="i2"><span class="bu b2">&#8658;</span>2006 extreme WWW, 1984 +5 Twh</div>
<div></div>
<div><b class="u">01.05:22</b></div>
<div class="i2"><span class="bu b2">&#8658;</span>Depends on an SSW into Dec-Jan and</div>
<div class="i2">PV strength</div>
<div></div>
<div><b class="u">2022</b></div>
<div class="i2"><span class="bu b2">&#8658;</span>2021 looks to be a dry year: if so its likely</div>
<div class="i2">2022 also will de dry since dry years</div>
<div class="i2">tends to come in pairs (late winter SSW)</div>
</div>
<div id="copy" style="top:699.21px">&copy;TradeWpower &ndash; all rights reserved</div>
<div id="gline"></div>
<div id="logo">
<div style="left:1115px;top:735.64px;font-size:40px;line-height:40px;transform:scaleX(1.034);transform-origin:0 50%;">Trade</div>
<div style="left:1221px;top:732.45px;font-size:44px;line-height:44px;color:#6cc04a;transform:scaleX(1.11);transform-origin:0 50%;">W</div>
<div style="left:1268px;top:735.44px;font-size:40px;line-height:40px;transform:scaleX(0.957);transform-origin:0 50%;">power</div>
</div>

</div></body></html>
